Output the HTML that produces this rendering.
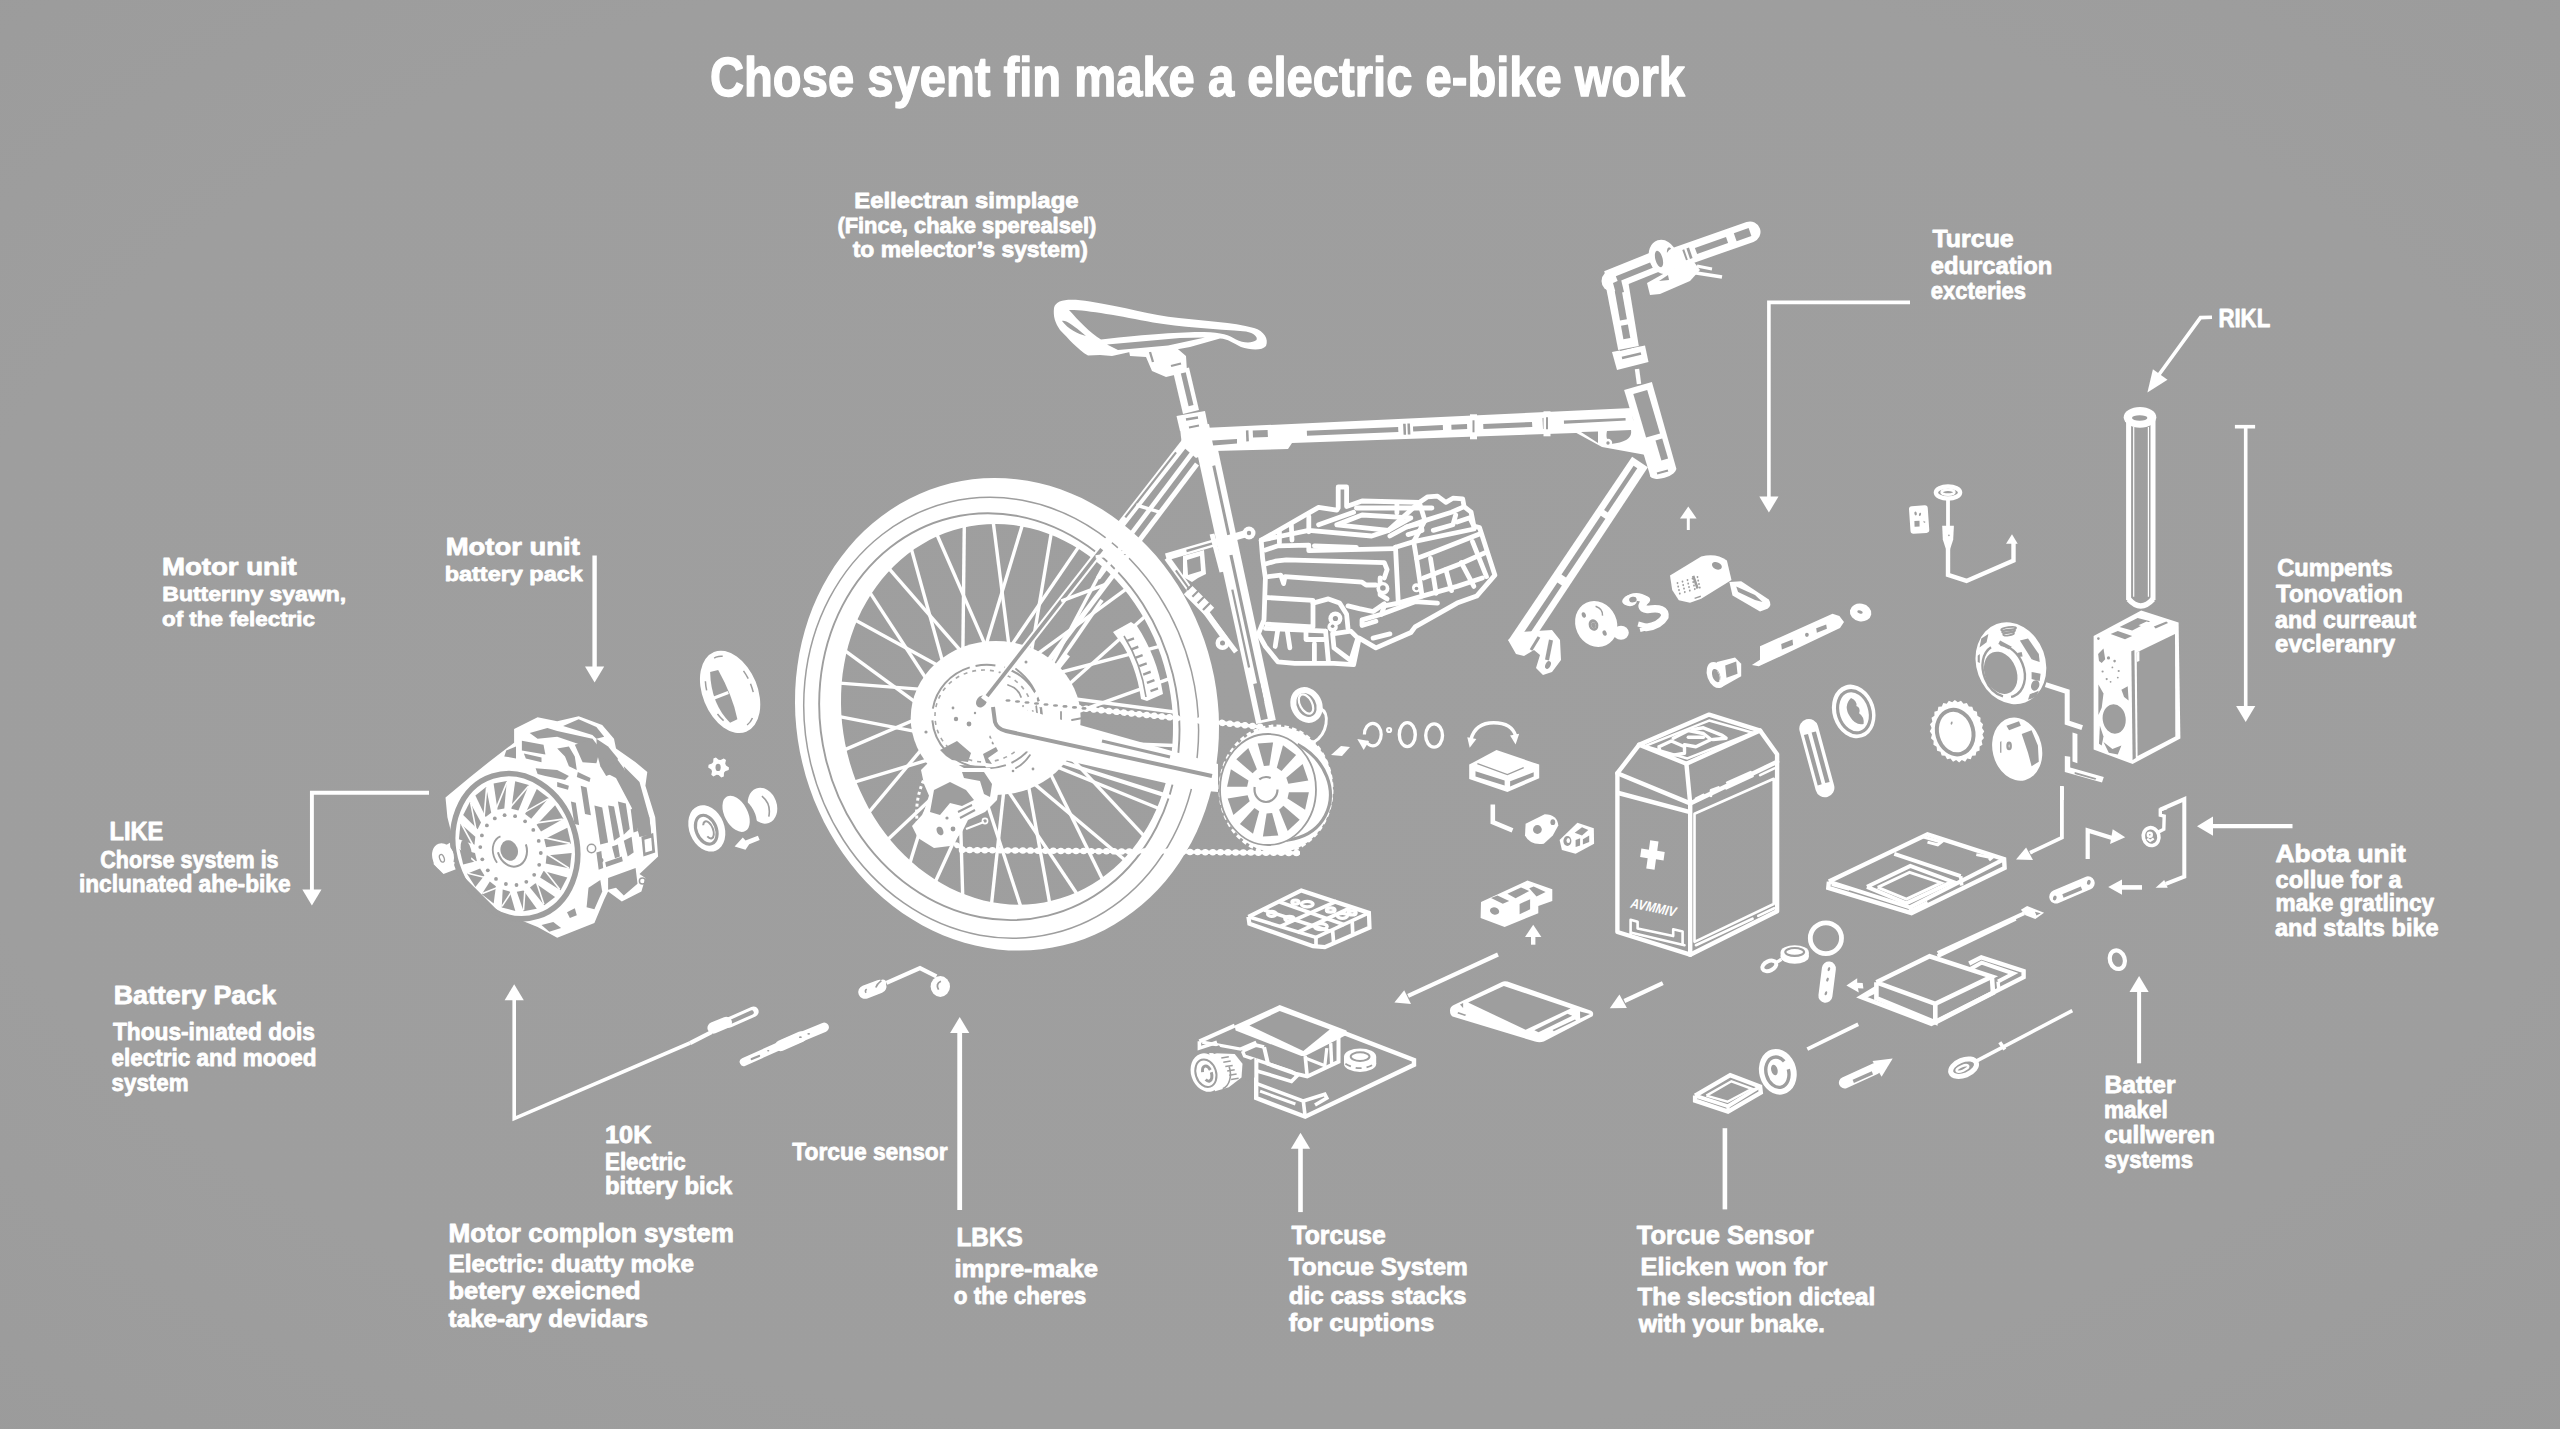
<!DOCTYPE html>
<html><head><meta charset="utf-8"><title>How an electric e-bike works</title>
<style>
html,body{margin:0;padding:0;background:#9e9e9e;}
body{width:2560px;height:1429px;overflow:hidden;font-family:"Liberation Sans",sans-serif;}
svg{display:block}
.w{fill:#fff;stroke:none}
.g{fill:#9e9e9e;stroke:none}
.l{fill:none;stroke:#fff;stroke-linecap:butt;stroke-linejoin:miter}
.gl{fill:none;stroke:#9e9e9e}
</style></head><body>
<svg width="2560" height="1429" viewBox="0 0 2560 1429">
<defs>
<radialGradient id="bg" cx="50%" cy="48%" r="75%">
<stop offset="0" stop-color="#9f9f9f"/><stop offset="0.7" stop-color="#9e9e9e"/><stop offset="1" stop-color="#9b9b9b"/>
</radialGradient>
</defs>
<rect width="2560" height="1429" fill="url(#bg)"/>
<!-- 10_arrows.py -->
<polyline class="l" stroke-width="4.4" points="594.6,555.5 594.6,670.0"/>
<polygon class="w" points="594.6,682.5 585.0,666.5 604.2,666.5"/>
<polyline class="l" stroke-width="3.9" points="429.0,792.7 311.9,792.7 311.9,893.0"/>
<polygon class="w" points="311.9,905.6 302.3,889.6 321.5,889.6"/>
<polyline class="l" stroke-width="3.6" points="690.0,1043.0 514.2,1118.6 514.2,998.0"/>
<polygon class="w" points="514.2,984.2 523.8,1000.2 504.6,1000.2"/>
<polyline class="l" stroke-width="4.8" points="959.7,1209.9 959.7,1030.0"/>
<polygon class="w" points="959.7,1016.9 969.3,1032.9 950.1,1032.9"/>
<polyline class="l" stroke-width="4.6" points="1300.5,1212.1 1300.5,1147.0"/>
<polygon class="w" points="1300.5,1132.8 1310.1,1148.8 1290.9,1148.8"/>
<polyline class="l" stroke-width="4.6" points="1724.9,1128.2 1724.9,1209.4"/>
<polyline class="l" stroke-width="4.0" points="2139.1,1063.3 2139.1,990.0"/>
<polygon class="w" points="2139.1,976.1 2148.7,992.1 2129.5,992.1"/>
<polyline class="l" stroke-width="4.3" points="2292.5,826.2 2211.0,826.2"/>
<polygon class="w" points="2197.0,826.2 2213.0,816.6 2213.0,835.8"/>
<polyline class="l" stroke-width="3.6" points="2234.9,426.7 2255.1,426.7"/>
<polyline class="l" stroke-width="3.6" points="2245.7,426.7 2245.7,708.0"/>
<polygon class="w" points="2245.7,722.0 2236.1,706.0 2255.3,706.0"/>
<polyline class="l" stroke-width="3.6" points="2212.0,317.2 2200.5,317.6 2158.0,376.0"/>
<polygon class="w" points="2147.4,392.4 2152.9,369.3 2167.5,379.8"/>
<polyline class="l" stroke-width="3.6" points="1910.0,302.4 1768.9,302.4 1768.9,499.0"/>
<polygon class="w" points="1768.9,512.6 1759.3,496.6 1778.5,496.6"/>
<polyline class="l" stroke-width="3" points="1688.3,530.0 1688.3,518.0"/>
<polygon class="w" points="1688.3,506.5 1696.6,518.5 1680.0,518.5"/>
<!-- 20_wheel.py -->
<g stroke="#fff" stroke-width="3.4" stroke-linecap="butt">
<line x1="1035.7" y1="726.8" x2="1169.6" y2="678.7"/>
<line x1="1031.6" y1="693.3" x2="1174.5" y2="712.0"/>
<line x1="1028.4" y1="740.1" x2="1174.3" y2="745.5"/>
<line x1="1037.1" y1="706.9" x2="1169.1" y2="778.0"/>
<line x1="1016.8" y1="750.5" x2="1158.9" y2="808.5"/>
<line x1="1037.1" y1="721.5" x2="1144.2" y2="836.2"/>
<line x1="1002.1" y1="756.8" x2="1125.2" y2="860.2"/>
<line x1="1031.7" y1="735.5" x2="1102.7" y2="879.7"/>
<line x1="986.2" y1="758.1" x2="1077.2" y2="894.3"/>
<line x1="1021.5" y1="747.2" x2="1049.7" y2="903.3"/>
<line x1="971.0" y1="754.3" x2="1020.8" y2="906.7"/>
<line x1="1007.7" y1="755.0" x2="991.5" y2="904.1"/>
<line x1="958.4" y1="745.9" x2="962.7" y2="895.8"/>
<line x1="992.0" y1="758.2" x2="935.2" y2="882.0"/>
<line x1="949.8" y1="734.0" x2="909.9" y2="863.1"/>
<line x1="976.4" y1="756.3" x2="887.6" y2="839.7"/>
<line x1="946.3" y1="719.8" x2="868.8" y2="812.4"/>
<line x1="962.6" y1="749.5" x2="854.3" y2="782.2"/>
<line x1="948.3" y1="705.2" x2="844.4" y2="749.9"/>
<line x1="952.4" y1="738.7" x2="839.5" y2="716.6"/>
<line x1="955.6" y1="691.9" x2="839.7" y2="683.1"/>
<line x1="946.9" y1="725.1" x2="844.9" y2="650.6"/>
<line x1="967.2" y1="681.5" x2="855.1" y2="620.1"/>
<line x1="946.9" y1="710.5" x2="869.8" y2="592.4"/>
<line x1="981.9" y1="675.2" x2="888.8" y2="568.4"/>
<line x1="952.3" y1="696.5" x2="911.3" y2="548.9"/>
<line x1="997.8" y1="673.9" x2="936.8" y2="534.3"/>
<line x1="962.5" y1="684.8" x2="964.3" y2="525.3"/>
<line x1="1013.0" y1="677.7" x2="993.2" y2="521.9"/>
<line x1="976.3" y1="677.0" x2="1022.5" y2="524.5"/>
<line x1="1025.6" y1="686.1" x2="1051.3" y2="532.8"/>
<line x1="992.0" y1="673.8" x2="1078.8" y2="546.6"/>
<line x1="1034.2" y1="698.0" x2="1104.1" y2="565.5"/>
<line x1="1007.6" y1="675.7" x2="1126.4" y2="588.9"/>
<line x1="1037.7" y1="712.2" x2="1145.2" y2="616.2"/>
<line x1="1021.4" y1="682.5" x2="1159.7" y2="646.4"/>
</g>
<path class="w" fill-rule="evenodd" d="M1211.4,664.5 L1214.1,676.6 L1216.2,688.9 L1217.7,701.2 L1218.7,713.6 L1219.0,726.0 L1218.8,738.3 L1218.0,750.6 L1216.6,762.7 L1214.7,774.8 L1212.2,786.7 L1209.1,798.3 L1205.5,809.8 L1201.3,821.0 L1196.6,831.9 L1191.4,842.4 L1185.6,852.6 L1179.4,862.5 L1172.7,871.9 L1165.6,880.9 L1158.0,889.5 L1150.0,897.5 L1141.6,905.1 L1132.8,912.1 L1123.7,918.6 L1114.3,924.6 L1104.6,929.9 L1094.6,934.7 L1084.4,938.9 L1073.9,942.4 L1063.3,945.3 L1052.5,947.6 L1041.6,949.3 L1030.6,950.3 L1019.6,950.6 L1008.5,950.4 L997.4,949.4 L986.3,947.8 L975.3,945.6 L964.4,942.8 L953.6,939.3 L942.9,935.2 L932.4,930.5 L922.1,925.2 L912.1,919.3 L902.3,912.9 L892.8,905.9 L883.6,898.4 L874.7,890.4 L866.2,881.9 L858.1,873.0 L850.4,863.6 L843.2,853.8 L836.3,843.6 L830.0,833.1 L824.1,822.2 L818.8,811.1 L813.9,799.7 L809.6,788.0 L805.8,776.2 L802.6,764.1 L799.9,752.0 L797.8,739.7 L796.3,727.4 L795.3,715.0 L795.0,702.6 L795.2,690.3 L796.0,678.0 L797.4,665.9 L799.3,653.8 L801.8,641.9 L804.9,630.3 L808.5,618.8 L812.7,607.6 L817.4,596.7 L822.6,586.2 L828.4,576.0 L834.6,566.1 L841.3,556.7 L848.4,547.7 L856.0,539.1 L864.0,531.1 L872.4,523.5 L881.2,516.5 L890.3,510.0 L899.7,504.0 L909.4,498.7 L919.4,493.9 L929.6,489.7 L940.1,486.2 L950.7,483.3 L961.5,481.0 L972.4,479.3 L983.4,478.3 L994.4,478.0 L1005.5,478.2 L1016.6,479.2 L1027.7,480.8 L1038.7,483.0 L1049.6,485.8 L1060.4,489.3 L1071.1,493.4 L1081.6,498.1 L1091.9,503.4 L1101.9,509.3 L1111.7,515.7 L1121.2,522.7 L1130.4,530.2 L1139.3,538.2 L1147.8,546.7 L1155.9,555.6 L1163.6,565.0 L1170.8,574.8 L1177.7,585.0 L1184.0,595.5 L1189.9,606.4 L1195.2,617.5 L1200.1,628.9 L1204.4,640.6 L1208.2,652.4Z M1166.7,675.4 L1168.9,685.2 L1170.6,695.1 L1171.9,705.0 L1172.7,715.0 L1173.0,724.9 L1172.9,734.9 L1172.4,744.7 L1171.4,754.5 L1169.9,764.2 L1168.0,773.8 L1165.7,783.1 L1162.9,792.3 L1159.7,801.3 L1156.1,810.1 L1152.1,818.5 L1147.6,826.7 L1142.8,834.6 L1137.6,842.2 L1132.1,849.4 L1126.2,856.2 L1120.0,862.7 L1113.5,868.7 L1106.6,874.3 L1099.6,879.5 L1092.2,884.2 L1084.6,888.5 L1076.9,892.3 L1068.9,895.6 L1060.7,898.3 L1052.4,900.6 L1044.0,902.4 L1035.5,903.7 L1026.9,904.4 L1018.2,904.7 L1009.5,904.4 L1000.8,903.6 L992.2,902.2 L983.5,900.4 L975.0,898.0 L966.5,895.1 L958.1,891.8 L949.9,887.9 L941.8,883.6 L933.9,878.8 L926.2,873.6 L918.7,867.9 L911.5,861.8 L904.5,855.3 L897.8,848.4 L891.4,841.2 L885.3,833.6 L879.6,825.7 L874.2,817.4 L869.1,808.9 L864.5,800.1 L860.2,791.1 L856.3,781.9 L852.9,772.5 L849.9,762.9 L847.3,753.2 L845.1,743.4 L843.4,733.5 L842.1,723.6 L841.3,713.6 L841.0,703.7 L841.1,693.7 L841.6,683.9 L842.6,674.1 L844.1,664.4 L846.0,654.8 L848.3,645.5 L851.1,636.3 L854.3,627.3 L857.9,618.5 L861.9,610.1 L866.4,601.9 L871.2,594.0 L876.4,586.4 L881.9,579.2 L887.8,572.4 L894.0,565.9 L900.5,559.9 L907.4,554.3 L914.4,549.1 L921.8,544.4 L929.4,540.1 L937.1,536.3 L945.1,533.0 L953.3,530.3 L961.6,528.0 L970.0,526.2 L978.5,524.9 L987.1,524.2 L995.8,523.9 L1004.5,524.2 L1013.2,525.0 L1021.8,526.4 L1030.5,528.2 L1039.0,530.6 L1047.5,533.5 L1055.9,536.8 L1064.1,540.7 L1072.2,545.0 L1080.1,549.8 L1087.8,555.0 L1095.3,560.7 L1102.5,566.8 L1109.5,573.3 L1116.2,580.2 L1122.6,587.4 L1128.7,595.0 L1134.4,602.9 L1139.8,611.2 L1144.9,619.7 L1149.5,628.5 L1153.8,637.5 L1157.7,646.7 L1161.1,656.1 L1164.1,665.7Z"/>
<ellipse cx="1000.5" cy="716.3" rx="195.9" ry="221.8" transform="rotate(-13.7 1007 714.3)" fill="none" stroke="#9e9e9e" stroke-width="1.5"/>
<ellipse cx="999" cy="714.8" rx="178.6" ry="204.8" transform="rotate(-13.7 1007 714.3)" fill="none" stroke="#9e9e9e" stroke-width="1.9"/>
<ellipse class="w" cx="995.7" cy="718" rx="85" ry="77"/>
<ellipse cx="986.8" cy="716.6" rx="54.6" ry="51.8" fill="none" stroke="#9e9e9e" stroke-width="2" stroke-dasharray="58 6 20 9 70 12"/>
<ellipse cx="984" cy="716" rx="49" ry="46" fill="none" stroke="#9e9e9e" stroke-width="1.6" stroke-dasharray="4 5" pathLength="300" stroke-dashoffset="-150" opacity="0.9" clip-path="none"/>
<path class="g" d="M940,750 L957,741 L971,753 L968,762 L952,760 L946,756Z"/>
<path class="g" d="M958,765 L985,766 L994,777 L992,795 L984,792 L980,776 L962,772Z"/>
<path class="g" d="M983,754 L996,747 L998,751 L988,758 L992,764 L986,763Z"/>
<circle class="g" cx="956" cy="719" r="2.2"/>
<circle class="g" cx="969" cy="724" r="2.4"/>
<circle class="g" cx="953" cy="708" r="1.4"/>
<circle class="g" cx="926" cy="732" r="1.6"/>
<circle class="g" cx="975" cy="713" r="1.2"/>
<circle class="g" cx="991" cy="737" r="1.8"/>
<circle class="g" cx="993" cy="743" r="1.4"/>
<circle class="g" cx="1016" cy="739" r="1.3"/>
<circle class="g" cx="1050" cy="678" r="1.6"/>
<circle class="g" cx="1026" cy="662" r="1.5"/>
<circle class="g" cx="1033" cy="769" r="1.4"/>
<circle class="g" cx="1013" cy="771" r="1.3"/>
<path d="M1016,669 Q1036,684 1039,705 M1008,685 Q1018,688 1021,697 M1023,706 Q1030,712 1029,722 M1036,704 L1038,722 M1041,706 L1043,724 M1061,712 L1061,726 M1072,720 L1088,717 M1030,755 Q1024,764 1016,768" fill="none" stroke="#9e9e9e" stroke-width="1.8" stroke-linecap="round"/>
<ellipse class="g" cx="981.5" cy="701.5" rx="5" ry="6.5" transform="rotate(35 981.5 701.5)"/>
<!-- 30_frame.py -->
<polygon class="w" points="1183.8,437.5 981.0,697.7 987.0,702.3 1190.2,442.5"/>
<polygon class="g" points="1100.3,548.1 985.6,695.0 988.5,697.2 1103.2,550.3"/>
<polygon class="g" points="1175.2,451.7 1124.4,516.7 1126.2,518.1 1176.9,453.1"/>
<polygon class="w" points="1195.0,462.5 1041.0,666.5 1045.0,669.5 1199.0,465.5"/>
<polygon class="w" points="1191.2,450.6 1096.2,576.6 1099.8,579.4 1194.8,453.4"/>
<polygon class="w" points="1135.7,506.7 1159.9,514.1 1160.9,510.8 1136.8,503.3"/>
<polygon class="w" points="1095.9,558.7 1131.4,552.9 1130.9,549.5 1095.4,555.3"/>
<polygon class="w" points="1061.8,602.8 1106.9,585.8 1105.7,582.5 1060.5,599.6"/>
<polygon class="w" points="1066.0,653.4 1008.0,726.4 1012.0,729.6 1070.0,656.6"/>
<polygon class="w" points="1100.4,598.9 1038.4,688.9 1041.6,691.1 1103.6,601.1"/>
<polygon class="w" points="1195.7,446.2 1256.2,724.1 1275.8,719.9 1216.3,441.8"/>
<polygon class="g" points="1212.3,465.9 1227.3,535.4 1230.2,534.8 1215.2,465.3"/>
<polygon class="g" points="1229.4,555.3 1261.2,702.7 1264.3,702.0 1232.5,554.7"/>
<polygon class="g" points="1231.2,589.8 1248.0,667.7 1250.2,667.2 1233.4,589.4"/>
<polygon class="g" points="1253.2,684.0 1261.0,720.2 1267.8,718.7 1260.0,682.6"/>
<polygon class="w" points="1167.0,560.4 1249.0,536.4 1247.0,529.6 1165.0,553.6"/>
<polygon class="g" points="1186.8,552.2 1215.5,543.8 1214.9,541.4 1186.2,549.8"/>
<circle class="w" cx="1249" cy="533" r="6.5"/><circle class="g" cx="1249" cy="533" r="2.2"/>
<polygon class="w" points="1164.6,559.8 1223.6,641.8 1228.4,638.2 1169.4,556.2"/>
<polygon class="g" points="1175.0,570.9 1195.7,599.6 1197.3,598.4 1176.7,569.7"/>
<circle class="w" cx="1222.5" cy="643" r="7"/><circle class="g" cx="1222.5" cy="643" r="2.5"/>
<polygon class="w" points="1183.0,556.0 1204.0,550.0 1206.0,574.0 1198.0,578.0 1192.0,582.0 1183.0,577.0"/>
<polygon class="g" points="1187.0,560.0 1200.0,556.0 1201.0,571.0 1188.0,575.0"/>
<polygon class="w" points="1183.8,594.2 1205.8,616.2 1214.2,607.8 1192.2,585.8"/>
<polygon class="g" points="1187.8,590.8 1194.8,583.8 1193.2,582.2 1186.2,589.2"/>
<polygon class="g" points="1193.1,597.4 1200.1,590.4 1198.6,588.9 1191.6,595.9"/>
<polygon class="g" points="1198.4,604.1 1205.4,597.1 1203.9,595.6 1196.9,602.6"/>
<polygon class="g" points="1203.8,610.8 1210.8,603.8 1209.2,602.2 1202.2,609.2"/>
<polygon class="w" points="1204.0,613.5 1234.0,653.5 1238.0,650.5 1208.0,610.5"/>
<polygon class="w" points="1209.6,534.6 1219.6,572.6 1224.4,571.4 1214.4,533.4"/>
<polygon class="w" points="1203.0,428.0 1632.0,408.0 1634.0,431.0 1292.0,443.0 1288.0,449.0 1214.0,451.0"/>
<polygon class="g" points="1253.0,437.6 1267.9,437.0 1267.6,430.0 1252.7,430.6"/>
<polygon class="g" points="1307.0,435.8 1398.4,432.0 1398.1,427.0 1306.8,430.8"/>
<polygon class="g" points="1413.2,431.4 1443.0,430.1 1442.8,425.1 1413.0,426.4"/>
<polygon class="g" points="1451.5,429.8 1467.2,429.1 1467.0,424.1 1451.3,424.8"/>
<polygon class="g" points="1483.4,428.9 1532.3,426.9 1532.0,421.9 1483.2,423.9"/>
<polygon class="g" points="1564.1,425.5 1625.8,423.0 1625.5,418.0 1563.9,420.5"/>
<polygon class="g" points="1246.3,441.4 1248.9,441.3 1248.4,430.3 1245.9,430.4"/>
<polygon class="g" points="1403.6,434.8 1406.1,434.7 1405.7,423.7 1403.1,423.8"/>
<polygon class="g" points="1407.8,434.6 1410.4,434.5 1409.9,423.5 1407.4,423.6"/>
<polygon class="g" points="1473.7,431.8 1476.3,431.7 1475.8,420.7 1473.2,420.8"/>
<polygon class="g" points="1543.0,428.9 1545.5,428.8 1545.1,417.8 1542.5,417.9"/>
<polygon class="g" points="1196.0,441.5 1237.0,439.0 1237.0,443.5 1207.0,446.0 1201.0,449.0"/>
<polygon class="w" points="1470.0,414.3 1470.0,439.3 1477.0,439.3 1477.0,414.3"/>
<polygon class="g" points="1472.5,420.3 1472.5,432.3 1474.5,432.3 1474.5,420.3"/>
<polygon class="w" points="1543.5,411.3 1543.5,436.3 1550.5,436.3 1550.5,411.3"/>
<polygon class="g" points="1546.0,417.3 1546.0,429.3 1548.0,429.3 1548.0,417.3"/>
<polygon class="w" points="1180.0,428.0 1209.0,424.0 1214.0,450.0 1196.0,458.0 1182.0,446.0"/>
<polygon class="w" points="1176.5,416.0 1205.0,411.0 1208.0,426.0 1180.0,431.0"/>
<polygon class="g" points="1186.2,420.7 1198.2,418.7 1197.8,416.3 1185.8,418.3"/>
<polygon class="g" points="1189.2,428.6 1199.2,426.6 1198.8,424.4 1188.8,426.4"/>
<polygon class="w" points="1173.0,371.4 1183.0,413.9 1199.0,410.1 1189.0,367.6"/>
<polygon class="g" points="1180.5,371.9 1188.6,406.3 1193.5,405.1 1185.4,370.7"/>
<polygon class="w" points="1128.0,346.0 1156.0,342.0 1172.0,344.0 1186.0,356.0 1187.0,372.0 1166.0,377.0 1152.0,371.0 1146.0,357.0 1130.0,356.0"/>
<polygon class="g" points="1148.9,352.3 1151.9,362.3 1154.1,361.7 1151.1,351.7"/>
<polygon class="g" points="1171.3,367.1 1181.3,364.6 1180.7,362.4 1170.7,364.9"/>
<path class="w" fill-rule="evenodd" d="M1054,308 C1056,299 1070,298.5 1090,301.5 C1125,307 1150,315 1179,318 C1205,321 1232,322 1254,328 C1264,331 1269,339 1266,346 C1262,351 1250,350 1241,347 C1233,343 1228,339 1220,338.5 L1190,347 L1168,351 L1130,352 L1112,356 L1100,355 L1088,355.5 C1078,350 1068,338 1060,330 C1055,323 1053,316 1054,308Z M1069,310 C1085,309.5 1120,316 1153,322.5 C1180,327 1215,329 1246,331.5 C1254,333 1258,337 1256.5,340 C1252,343.5 1243,343 1236,339.5 C1229,335 1222,332.5 1204,332 C1180,332 1150,334 1101,339.5 C1090,333 1078,320 1069,310Z"/>
<path class="g" d="M1107,344.5 L1180,338 L1205,337.5 L1168,345.5 L1118,350 Z"/>
<path class="g" d="M1062,321 C1066,320 1072,325 1080,331 L1086,336 C1078,334 1068,329 1062,321Z"/>
<polygon class="w" points="1624.1,390.1 1650.5,476.8 1676.5,469.2 1651.9,381.9"/>
<polygon class="g" points="1633.3,394.0 1646.1,437.5 1660.0,433.4 1647.2,389.9"/>
<polygon class="g" points="1655.5,440.4 1661.4,460.4 1668.1,458.4 1662.2,438.4"/>
<ellipse class="w" cx="1663" cy="472" rx="13.5" ry="6" transform="rotate(-16 1663 472)"/>
<polygon class="g" points="1657.3,474.6 1668.3,471.6 1667.7,469.4 1656.7,472.4"/>
<polygon class="w" points="1560.0,424.0 1636.0,420.0 1646.0,455.0 1602.0,447.0"/>
<polygon class="g" points="1581.0,432.0 1598.0,431.5 1598.0,443.0"/>
<path class="g" d="M1607,431 L1631,430 C1632,436 1629,442 1611,444 C1606,440 1606,436 1607,431Z"/>
<circle class="w" cx="1608" cy="443" r="4.2"/><circle class="g" cx="1608" cy="443" r="1.7"/>
<polygon class="w" points="1632.1,456.7 1508.3,640.2 1525.7,651.8 1647.9,467.3"/>
<polygon class="g" points="1633.6,465.7 1604.1,509.9 1607.8,512.4 1637.3,468.2"/>
<polygon class="g" points="1600.8,515.7 1561.5,574.6 1566.0,577.6 1605.4,518.7"/>
<polygon class="g" points="1557.4,582.5 1524.2,632.1 1528.7,635.2 1561.9,585.5"/>
<path class="w" d="M1508,640 L1520,632 L1552,630 L1560,640 L1561,660 L1552,672 L1543,675 L1536,668 L1540,655 L1534,650 L1524,656 L1516,654Z"/>
<polygon class="g" points="1537.7,636.2 1529.7,649.2 1532.3,650.8 1540.3,637.8"/>
<polygon class="g" points="1549.0,639.6 1545.0,659.6 1549.0,660.4 1553.0,640.4"/>
<ellipse class="g" cx="1548" cy="665" rx="2.6" ry="4" transform="rotate(25 1548 665)"/>
<polygon class="w" points="1634.8,369.3 1636.8,384.3 1641.2,383.7 1639.2,368.7"/>
<polygon class="w" points="1612.0,352.0 1645.0,345.5 1648.5,362.0 1617.0,370.0"/>
<polygon class="g" points="1622.3,359.2 1641.3,354.7 1640.7,352.3 1621.7,356.8"/>
<polygon class="g" points="1620.2,351.0 1634.2,347.5 1633.8,345.5 1619.8,349.0"/>
<polygon class="w" points="1605.2,283.0 1618.2,349.9 1638.8,346.1 1627.8,279.0"/>
<polygon class="g" points="1613.4,283.6 1620.0,320.5 1626.9,319.2 1620.3,282.4"/>
<polygon class="g" points="1621.0,325.8 1623.4,339.2 1630.3,338.0 1627.9,324.6"/>
<polygon class="w" points="1611.9,290.7 1663.9,269.7 1656.1,250.3 1604.1,271.3"/>
<circle class="w" cx="1612" cy="281" r="10.5"/>
<polygon class="g" points="1618.0,281.8 1652.8,267.7 1650.6,262.2 1615.8,276.2"/>
<polygon class="g" points="1613.0,283.0 1621.0,279.5 1624.0,292.0 1616.0,294.0"/>
<ellipse class="w" cx="1663" cy="257" rx="14" ry="17.5" transform="rotate(-18 1663 257)"/>
<ellipse class="g" cx="1659" cy="259" rx="3.6" ry="8.6" transform="rotate(-15 1659 259)"/>
<ellipse class="g" cx="1671" cy="256.5" rx="3.4" ry="9.4" transform="rotate(-15 1671 256.5)"/>
<polygon class="w" points="1647.0,283.0 1672.0,269.0 1694.0,262.0 1700.0,270.0 1690.0,281.0 1660.0,294.0 1650.0,295.0"/>
<polygon class="g" points="1659.0,281.0 1668.0,275.0 1669.0,280.0"/>
<polygon class="w" points="1689.7,273.7 1721.7,278.7 1722.3,275.3 1690.3,270.3"/>
<polygon class="w" points="1696.7,267.5 1711.7,270.5 1712.3,267.5 1697.3,264.5"/>
<line x1="1676" y1="258" x2="1750" y2="232" stroke="#fff" stroke-width="21" stroke-linecap="round"/>
<polygon class="g" points="1697.1,254.0 1728.1,243.1 1726.0,237.0 1694.9,247.9"/>
<polygon class="g" points="1736.6,241.2 1751.4,236.0 1748.6,228.0 1733.8,233.2"/>
<polygon class="g" points="1686.0,260.3 1687.8,259.7 1684.2,249.3 1682.3,250.0"/>
<polygon class="g" points="1690.0,258.9 1692.6,258.0 1689.0,247.6 1686.4,248.5"/>
<!-- 40_drive.py -->
<polygon class="w" points="990.0,704.0 1002.0,703.0 1218.0,764.0 1218.0,792.0 1196.0,790.0 994.0,744.0 988.0,730.0"/>
<path d="M993,707 L995,722 Q997,729 1006,731 L1212,776" fill="none" stroke="#9e9e9e" stroke-width="4"/>
<polygon class="g" points="1101.6,742.6 1169.6,758.6 1170.4,755.4 1102.4,739.4"/>
<polygon class="w" points="1029.4,753.9 1179.4,801.9 1180.6,798.1 1030.6,750.1"/>
<path class="w" d="M1113,632 L1131,622 L1137,626 C1150,646 1159,668 1163,694 L1147,701 L1141,699 C1138,676 1130,654 1119,640Z"/>
<polygon class="g" points="1126.9,642.3 1134.4,639.5 1133.6,637.3 1126.1,640.1"/>
<polygon class="g" points="1131.2,650.7 1138.7,647.9 1137.9,645.6 1130.4,648.4"/>
<polygon class="g" points="1135.5,659.0 1143.0,656.2 1142.2,653.9 1134.7,656.7"/>
<polygon class="g" points="1139.6,667.3 1147.1,664.5 1146.3,662.3 1138.8,665.1"/>
<polygon class="g" points="1143.6,675.7 1151.1,672.9 1150.3,670.6 1142.8,673.4"/>
<polygon class="g" points="1147.4,684.0 1154.9,681.2 1154.0,678.9 1146.5,681.7"/>
<polygon class="g" points="1150.9,692.3 1158.4,689.5 1157.6,687.3 1150.1,690.1"/>
<path d="M1124,636 C1136,655 1143,676 1146,697" fill="none" stroke="#9e9e9e" stroke-width="1.6"/>
<ellipse class="w" cx="1277" cy="789.5" rx="56" ry="63"/>
<ellipse cx="1276" cy="789.5" rx="55" ry="62.5" fill="none" stroke="#fff" stroke-width="5" stroke-dasharray="4.5 3.2"/>
<ellipse cx="1274" cy="788.5" rx="50" ry="58" fill="none" stroke="#9e9e9e" stroke-width="3.2" stroke-dasharray="182 400" transform="rotate(-62 1274 788.5)"/>
<ellipse class="w" cx="1268" cy="789.5" rx="49" ry="56"/>
<ellipse cx="1268" cy="789.5" rx="48" ry="55.5" fill="none" stroke="#9e9e9e" stroke-width="1.8"/>
<polygon class="g" points="1288.9,792.3 1308.9,792.3 1305.1,809.7 1287.5,798.5"/>
<polygon class="g" points="1283.4,805.8 1299.7,819.7 1287.7,831.1 1279.1,809.8"/>
<polygon class="g" points="1272.1,813.0 1278.3,835.5 1262.9,836.6 1266.6,813.4"/>
<polygon class="g" points="1259.2,811.3 1253.0,833.7 1239.9,824.1 1254.5,807.9"/>
<polygon class="g" points="1249.7,801.2 1233.4,815.1 1227.7,798.4 1247.6,795.3"/>
<polygon class="g" points="1247.1,786.7 1227.1,786.7 1230.9,769.3 1248.5,780.5"/>
<polygon class="g" points="1252.6,773.2 1236.3,759.3 1248.3,747.9 1256.9,769.2"/>
<polygon class="g" points="1263.9,766.0 1257.7,743.5 1273.1,742.4 1269.4,765.6"/>
<polygon class="g" points="1276.8,767.7 1283.0,745.3 1296.1,754.9 1281.5,771.1"/>
<polygon class="g" points="1286.3,777.8 1302.6,763.9 1308.3,780.6 1288.4,783.7"/>
<ellipse cx="1266" cy="789.5" rx="11.5" ry="12.5" fill="#fff" stroke="#9e9e9e" stroke-width="2.2" stroke-dasharray="40 9 12 14"/>
<line x1="1003" y1="700" x2="1262" y2="727" stroke="#fff" stroke-width="3.7"/><line x1="1003" y1="700" x2="1262" y2="727" stroke="#fff" stroke-width="6.5" stroke-dasharray="0.1 7.5" stroke-linecap="round"/>
<line x1="962" y1="850" x2="1300" y2="853" stroke="#fff" stroke-width="3.7"/><line x1="962" y1="850" x2="1300" y2="853" stroke="#fff" stroke-width="6.5" stroke-dasharray="0.1 7.5" stroke-linecap="round"/>
<line x1="946" y1="838" x2="964" y2="850" stroke="#fff" stroke-width="3.2"/><line x1="946" y1="838" x2="964" y2="850" stroke="#fff" stroke-width="5.6" stroke-dasharray="0.1 6.5" stroke-linecap="round"/>
<ellipse class="g" cx="1008.0" cy="700.5" rx="2.6" ry="1.3"/>
<ellipse class="g" cx="1017.5" cy="701.5" rx="2.6" ry="1.3"/>
<ellipse class="g" cx="1027.0" cy="702.5" rx="2.6" ry="1.3"/>
<ellipse class="g" cx="1036.5" cy="703.5" rx="2.6" ry="1.3"/>
<ellipse class="g" cx="1046.0" cy="704.5" rx="2.6" ry="1.3"/>
<ellipse class="g" cx="1055.5" cy="705.5" rx="2.6" ry="1.3"/>
<ellipse class="g" cx="1065.0" cy="706.4" rx="2.6" ry="1.3"/>
<ellipse class="g" cx="1074.5" cy="707.4" rx="2.6" ry="1.3"/>
<ellipse class="g" cx="1084.0" cy="708.4" rx="2.6" ry="1.3"/>
<path class="w" d="M921,770 L934,757 L950,760 L964,768 L990,768 L1000,780 L997,800 L985,812 L968,820 L962,832 L950,846 L934,848 L918,838 L912,826 L922,815 L930,798 L924,784Z"/>
<path class="g" d="M934,790 L950,782 L966,790 L974,800 L962,806 L950,803 L940,815 L930,812Z"/>
<path class="g" d="M962,772 L984,772 L992,784 L990,797 L984,794 L980,781 L964,778Z"/>
<ellipse class="g" cx="940" cy="831" rx="3.2" ry="4.4" transform="rotate(-20 940 831)"/><circle class="g" cx="953" cy="829" r="2.4"/><circle class="g" cx="947" cy="818" r="1.6"/>
<polygon class="g" points="958.4,812.9 972.4,805.9 971.6,804.1 957.6,811.1"/>
<polygon class="g" points="960.5,818.9 975.5,810.9 974.5,809.1 959.5,817.1"/>
<path d="M966,829 L984,822" stroke="#fff" stroke-width="2.2" fill="none"/><circle cx="985" cy="821" r="2.6" fill="none" stroke="#fff" stroke-width="1.6"/>
<path d="M926,775 C916,795 914,815 920,835" fill="none" stroke="#fff" stroke-width="3" stroke-dasharray="3 3"/>
<ellipse cx="1306.5" cy="705" rx="12.5" ry="15.5" transform="rotate(-28 1306.5 705)" fill="none" stroke="#fff" stroke-width="6"/>
<ellipse cx="1306" cy="704" rx="6" ry="10.5" transform="rotate(-28 1306 704)" fill="none" stroke="#fff" stroke-width="2.2"/>
<path d="M1320,708 Q1328,712 1326,724 Q1324,736 1314,742" fill="none" stroke="#fff" stroke-width="3"/>
<polygon class="w" points="1331.0,755.0 1341.0,746.0 1350.0,747.0 1342.0,756.0"/>
<!-- 50_block.py -->
<g fill="none" stroke="#fff" stroke-width="4.8" stroke-linejoin="round" stroke-linecap="round">
<polygon points="1261.2,540.2 1318.6,507.3 1336.8,510.1 1338.2,508.0 1338.2,487.0 1346.6,487.0 1346.6,506.6 1362.0,501.0 1419.3,502.4 1427.7,496.8 1437.5,496.1 1445.9,502.4 1452.9,498.2 1462.7,498.9 1464.1,506.6 1471.1,512.2 1473.9,526.2 1479.5,527.6 1494.9,575.2 1476.7,596.1 1457.1,603.1 1415.1,626.9 1410.9,632.5 1375.9,647.9 1359.2,638.1 1353.6,664.7 1334.0,663.3 1294.8,663.3 1278.0,661.9 1265.4,646.5 1258.4,633.9 1264.0,619.9 1265.4,578.0 1262.6,558.4"/>
<polyline points="1261.2,540.2 1308.8,530.4 1371.7,536.0 1388.5,530.4 1419.3,502.4"/>
<polyline points="1279.4,531.8 1279.4,543.0"/>
<polyline points="1291.3,524.8 1292.0,540.2"/>
<polyline points="1308.8,516.4 1308.8,531.8"/>
<polyline points="1318.6,524.8 1353.6,512.2"/>
<polyline points="1336.8,524.8 1362.0,515.0 1410.9,517.8 1388.5,530.4 1336.8,524.8"/>
<polyline points="1356.4,508.0 1431.9,508.0"/>
<polyline points="1396.9,503.1 1396.9,512.9"/>
<polyline points="1265.4,550.0 1278.0,545.8 1308.8,545.1 1308.8,550.7 1394.1,548.6"/>
<polyline points="1314.4,545.8 1356.4,547.5"/>
<polyline points="1265.4,564.0 1275.2,561.2 1286.4,559.8 1384.3,562.6 1387.1,569.6 1384.3,578.0"/>
<polyline points="1268.2,576.6 1280.8,575.2 1283.6,583.6 1285.0,576.6 1362.0,582.2 1366.1,585.0 1375.9,585.0"/>
<polyline points="1265.4,597.5 1313.0,600.3 1313.0,626.9 1266.8,624.1"/>
<polyline points="1313.0,603.1 1328.4,598.9 1339.6,603.1 1346.6,614.3 1348.0,628.3"/>
<polyline points="1348.0,605.9 1359.2,608.7 1373.1,611.5 1384.3,603.8"/>
<polyline points="1395.5,547.2 1398.3,603.1 1384.3,605.9 1381.5,614.3 1362.0,619.9 1362.0,625.5 1375.9,621.3"/>
<polyline points="1413.7,541.6 1416.5,558.4 1422.1,596.1"/>
<polyline points="1395.5,547.2 1413.7,541.6 1473.9,529.0"/>
<polyline points="1416.5,558.4 1431.9,552.8 1479.5,533.9"/>
<polyline points="1423.5,578.0 1459.9,564.0 1485.1,552.8"/>
<polyline points="1398.3,603.1 1422.1,596.1 1457.1,586.4 1482.3,578.0"/>
<polyline points="1430.5,558.4 1436.1,593.4"/>
<polyline points="1445.9,569.6 1451.5,590.6"/>
<polyline points="1461.3,562.6 1473.9,586.4"/>
<polyline points="1472.5,541.6 1486.5,576.6"/>
<polyline points="1265.4,628.3 1325.6,631.1"/>
<polyline points="1278.0,628.3 1275.2,646.5"/>
<polyline points="1287.1,629.7 1289.9,647.9"/>
<polyline points="1306.0,631.1 1306.0,639.5 1324.2,639.5"/>
<polyline points="1314.4,643.7 1314.4,661.9"/>
<polyline points="1325.6,631.1 1328.4,661.9"/>
<polyline points="1332.6,633.9 1350.8,631.1 1357.8,638.1 1350.8,660.5 1334.0,647.9 1332.6,633.9"/>
<polyline points="1381.5,614.3 1415.1,601.7 1437.5,603.1"/>
<polyline points="1373.1,638.1 1389.9,633.9"/>
<polyline points="1419.3,502.4 1424.9,520.6 1413.7,541.6"/>
<polyline points="1424.9,520.6 1451.5,512.2 1464.1,506.6"/>
<polyline points="1433.3,530.4 1452.9,524.8 1455.7,515.0"/>
<polyline points="1389.9,536.0 1405.3,527.6 1424.9,520.6"/>
<polyline points="1406.7,526.9 1420.7,523.4 1422.1,530.4 1408.1,534.6"/>
<polyline points="1457.1,522.0 1469.7,517.8 1473.9,526.2"/>
<polyline points="1380.1,578.0 1380.1,594.7 1387.1,598.9"/>
</g>
<circle class="w" cx="1335.4" cy="618.5" r="7"/><circle class="g" cx="1335.4" cy="618.5" r="2.6"/><circle class="w" cx="1332.6" cy="626.9" r="5.2"/><circle class="g" cx="1332.6" cy="626.2" r="1.8"/><circle class="w" cx="1382.9" cy="588.5" r="6.5"/><circle class="g" cx="1382.9" cy="588.0" r="2.8"/><circle class="w" cx="1416.5" cy="587.8" r="4.5"/><circle class="g" cx="1416.5" cy="588.5" r="1.8"/>
<!-- 60_motor.py -->
<polygon class="w" points="514.1,729.0 537.6,717.2 557.2,721.2 578.7,716.3 602.2,725.1 614.0,738.8 616.0,748.6 635.6,762.3 647.3,772.1 645.4,785.8 655.2,817.2 658.1,856.4 639.5,874.0 645.4,877.9 641.4,891.6 621.8,901.4 608.1,891.6 604.2,899.5 594.4,923.0 557.2,937.7 537.6,926.9 498.4,911.2 465.1,877.9 459.2,868.1 443.5,874.0 433.7,864.2 433.7,852.4 453.3,840.7 447.4,817.2 445.5,797.6 469.0,778.0 488.6,762.3 514.1,742.7"/>
<polygon class="g" points="529.7,732.9 547.4,728.0 557.2,731.0 592.4,738.8 596.4,746.6 580.7,744.7 557.2,736.8 537.6,738.8"/>
<polygon class="g" points="563.1,726.1 578.7,719.2 596.4,727.0 604.2,736.8 596.4,738.8 592.4,734.9"/>
<polygon class="g" points="521.9,740.7 543.5,744.7 545.4,754.5 521.9,750.5"/>
<polygon class="g" points="506.2,750.5 516.0,746.6 516.0,758.4 504.3,756.4"/>
<polygon class="g" points="523.9,753.5 541.5,757.4 541.5,762.3 525.8,758.4"/>
<polygon class="g" points="557.2,748.6 568.9,746.6 574.8,756.4 576.8,770.1 568.9,766.2 565.0,756.4"/>
<polygon class="g" points="596.4,738.8 608.1,746.6 617.9,758.4 616.0,772.1 606.2,776.0 600.3,766.2 597.3,754.5"/>
<polygon class="g" points="535.6,768.2 557.2,770.1 568.9,776.0 565.0,779.9 545.4,776.0 537.6,774.1"/>
<polygon class="g" points="623.8,766.2 639.5,781.9 649.3,817.2 651.2,832.9 639.5,836.8 635.6,805.4 627.7,785.8"/>
<polygon class="g" points="594.4,805.4 602.2,807.4 608.1,842.6 600.3,844.6"/>
<polygon class="g" points="608.1,805.4 614.0,806.4 619.9,836.8 614.0,840.7"/>
<polygon class="g" points="617.9,801.5 625.8,803.5 629.7,828.9 623.8,834.8"/>
<polygon class="g" points="612.0,846.6 617.9,844.6 619.9,856.4 615.0,858.3"/>
<polygon class="g" points="623.8,840.7 631.6,836.8 633.6,852.4 627.7,856.4"/>
<polygon class="g" points="641.4,836.8 653.2,832.9 655.2,852.4 643.4,856.4"/>
<polygon class="w" points="644.4,839.7 651.2,837.8 652.2,850.5 645.4,852.4"/>
<polygon class="g" points="608.1,877.9 635.6,868.1 637.5,883.8 623.8,895.6 616.0,887.7 608.1,889.7"/>
<polygon class="g" points="588.5,887.7 600.3,879.9 602.2,891.6 594.4,909.3 586.6,907.3"/>
<polygon class="g" points="541.5,925.0 553.3,922.0 561.1,927.9 549.3,931.8"/>
<polygon class="g" points="567.0,912.2 574.8,908.3 576.8,915.2 569.9,918.1"/>
<polygon class="g" points="600.3,758.4 617.9,760.3 623.8,768.2 649.3,817.2 651.2,834.8 639.5,836.8 631.6,807.4 616.0,778.0 604.2,772.1"/>
<polygon class="g" points="574.8,744.7 592.4,738.8 600.3,748.6 596.4,763.3 582.6,762.3"/>
<polygon class="g" points="580.7,785.8 586.6,787.4 590.9,815.2 585.0,814.0"/>
<polygon class="g" points="570.9,801.5 575.8,802.7 579.1,825.0 574.4,824.0"/>
<polygon class="g" points="630.7,809.3 635.2,808.4 637.9,830.9 633.6,832.5"/>
<polygon class="g" points="596.4,852.4 601.3,850.9 603.2,868.1 598.7,869.7"/>
<polygon class="g" points="605.2,862.2 621.8,856.4 622.8,861.3 606.2,867.1"/>
<polygon class="g" points="557.2,781.9 568.9,785.8 568.0,789.7 557.2,786.8"/>
<polygon class="g" points="577.8,772.1 590.5,778.0 589.5,781.9 576.8,777.0"/>
<ellipse cx="515.2" cy="846.2" rx="61.1" ry="73.6" transform="rotate(-18 515.2 846.2)" fill="none" stroke="#9e9e9e" stroke-width="5.6"/>
<polygon class="g" points="544.2,839.3 567.3,827.8 571.0,843.4 546.1,847.3"/>
<line x1="545.0" y1="837.9" x2="570.0" y2="843.4" stroke="#fff" stroke-width="1.6"/>
<polygon class="g" points="546.6,855.5 571.6,853.1 569.9,868.5 545.7,863.4"/>
<line x1="547.9" y1="854.7" x2="569.0" y2="868.1" stroke="#fff" stroke-width="1.6"/>
<polygon class="g" points="543.5,871.0 567.3,877.4 560.6,890.3 540.1,877.6"/>
<line x1="545.1" y1="870.8" x2="559.8" y2="889.5" stroke="#fff" stroke-width="1.6"/>
<polygon class="g" points="535.4,883.2 555.1,896.9 544.3,905.3 529.9,887.5"/>
<line x1="537.0" y1="883.7" x2="543.8" y2="904.3" stroke="#fff" stroke-width="1.6"/>
<polygon class="g" points="523.5,890.4 536.8,908.7 523.6,911.3 516.8,891.7"/>
<line x1="524.8" y1="891.6" x2="523.5" y2="910.2" stroke="#fff" stroke-width="1.6"/>
<polygon class="g" points="509.7,891.5 515.3,911.0 501.7,907.4 502.7,889.6"/>
<line x1="510.6" y1="893.1" x2="501.9" y2="906.4" stroke="#fff" stroke-width="1.6"/>
<polygon class="g" points="495.9,886.2 493.7,903.4 481.8,894.2 489.8,881.5"/>
<line x1="496.3" y1="888.1" x2="482.4" y2="893.4" stroke="#fff" stroke-width="1.6"/>
<polygon class="g" points="484.4,875.5 475.4,887.1 467.0,873.7 480.1,868.6"/>
<line x1="484.1" y1="877.2" x2="467.8" y2="873.2" stroke="#fff" stroke-width="1.6"/>
<polygon class="g" points="476.9,860.9 463.2,864.6 459.5,849.0 475.0,852.9"/>
<line x1="476.0" y1="862.3" x2="460.5" y2="848.9" stroke="#fff" stroke-width="1.6"/>
<polygon class="g" points="474.5,844.7 458.9,839.3 460.5,823.8 475.3,836.8"/>
<line x1="473.2" y1="845.5" x2="461.5" y2="824.2" stroke="#fff" stroke-width="1.6"/>
<polygon class="g" points="477.6,829.2 463.2,815.0 469.9,802.1 481.0,822.6"/>
<line x1="476.0" y1="829.4" x2="470.7" y2="802.8" stroke="#fff" stroke-width="1.6"/>
<polygon class="g" points="485.6,817.0 475.4,795.4 486.1,787.0 491.2,812.7"/>
<line x1="484.1" y1="816.5" x2="486.6" y2="788.1" stroke="#fff" stroke-width="1.6"/>
<polygon class="g" points="497.5,809.8 493.6,783.6 506.8,781.0 504.3,808.5"/>
<line x1="496.2" y1="808.6" x2="507.0" y2="782.1" stroke="#fff" stroke-width="1.6"/>
<polygon class="g" points="511.4,808.7 515.2,781.3 528.8,784.9 518.4,810.5"/>
<line x1="510.5" y1="807.1" x2="528.6" y2="786.0" stroke="#fff" stroke-width="1.6"/>
<polygon class="g" points="525.1,813.9 536.8,788.9 548.7,798.1 531.2,818.7"/>
<line x1="524.8" y1="812.1" x2="548.1" y2="798.9" stroke="#fff" stroke-width="1.6"/>
<polygon class="g" points="536.6,824.7 555.1,805.2 563.5,818.7 541.0,831.6"/>
<line x1="536.9" y1="822.9" x2="562.7" y2="819.1" stroke="#fff" stroke-width="1.6"/>
<circle class="g" cx="538.7" cy="840.9" r="1.9"/>
<circle class="g" cx="540.8" cy="853.0" r="1.9"/>
<circle class="g" cx="539.2" cy="864.8" r="1.9"/>
<circle class="g" cx="534.2" cy="874.8" r="1.9"/>
<circle class="g" cx="526.3" cy="881.8" r="1.9"/>
<circle class="g" cx="516.5" cy="885.0" r="1.9"/>
<circle class="g" cx="505.9" cy="884.0" r="1.9"/>
<circle class="g" cx="496.0" cy="878.9" r="1.9"/>
<circle class="g" cx="487.8" cy="870.3" r="1.9"/>
<circle class="g" cx="482.3" cy="859.3" r="1.9"/>
<circle class="g" cx="480.3" cy="847.1" r="1.9"/>
<circle class="g" cx="481.9" cy="835.4" r="1.9"/>
<circle class="g" cx="486.9" cy="825.4" r="1.9"/>
<circle class="g" cx="494.8" cy="818.4" r="1.9"/>
<circle class="g" cx="504.6" cy="815.2" r="1.9"/>
<circle class="g" cx="515.1" cy="816.2" r="1.9"/>
<circle class="g" cx="525.1" cy="821.3" r="1.9"/>
<circle class="g" cx="533.3" cy="829.9" r="1.9"/>
<ellipse class="g" cx="509.2" cy="850.5" rx="8.6" ry="10.4" transform="rotate(-18 509.2 850.5)"/>
<ellipse cx="512.1" cy="848.9" rx="14.5" ry="18" transform="rotate(-18 512.1 848.9)" fill="none" stroke="#9e9e9e" stroke-width="2" stroke-dasharray="52 50"/>
<ellipse cx="506.2" cy="852.4" rx="13" ry="17" transform="rotate(-18 506.2 852.4)" fill="none" stroke="#9e9e9e" stroke-width="1.8" stroke-dasharray="30 70" stroke-dashoffset="-40"/>
<ellipse class="w" cx="443.5" cy="857.3" rx="11" ry="14.5" transform="rotate(-20 443.5 857.3)"/>
<ellipse cx="441.9" cy="858.3" rx="2.2" ry="4" transform="rotate(-20 441.9 858.3)" fill="none" stroke="#9e9e9e" stroke-width="1.3"/>
<ellipse class="g" cx="466.2" cy="850.5" rx="5" ry="11" transform="rotate(-15 466.2 850.5)"/>
<path d="M451.4,846.6 Q456.3,854.4 454.3,862.2" fill="none" stroke="#9e9e9e" stroke-width="1.6"/>
<circle cx="613.0" cy="766.2" r="3.6" fill="none" stroke="#9e9e9e" stroke-width="1.5"/>
<circle cx="591.5" cy="848.5" r="4.2" fill="none" stroke="#9e9e9e" stroke-width="1.5"/>
<circle cx="642.4" cy="880.9" r="3.0" fill="none" stroke="#9e9e9e" stroke-width="1.5"/>
<circle cx="601.3" cy="860.3" r="1.5" fill="none" stroke="#9e9e9e" stroke-width="1.5"/>
<ellipse class="w" cx="730.1" cy="691.9" rx="27.5" ry="43" transform="rotate(-22 730.1 691.9)"/>
<path class="g" d="M710.1,671.9 L718.2,670.1 Q732.8,696.4 737.4,719.2 L730.1,722.8 Q711.0,703.7 710.1,671.9Z"/>
<line x1="712.8" y1="698.6" x2="728.3" y2="692.4" stroke="#fff" stroke-width="3.2"/>
<ellipse cx="730.1" cy="691.9" rx="22" ry="37.5" transform="rotate(-22 730.1 691.9)" fill="none" stroke="#9e9e9e" stroke-width="1.5" stroke-dasharray="9 26"/>
<polygon class="w" points="729.0,767.4 728.7,770.1 725.2,771.2 724.0,772.8 723.8,776.4 721.3,777.5 718.6,775.0 716.6,774.8 713.4,776.4 711.3,774.8 712.0,771.2 711.3,769.4 708.2,767.4 708.6,764.7 712.0,763.6 713.2,762.1 713.4,758.4 715.9,757.4 718.6,759.8 720.6,760.1 723.8,758.4 726.0,760.1 725.2,763.6 726.0,765.5"/><ellipse class="g" cx="718.1" cy="767.4" rx="2.6" ry="3.6"/>
<ellipse class="w" cx="762.5" cy="805.7" rx="14.2" ry="18.4" transform="rotate(-20 762.5 805.7)"/>
<path d="M761.9,796.2 Q771.4,803.8 768.8,816.6" fill="none" stroke="#9e9e9e" stroke-width="1.6"/>
<ellipse class="g" cx="742.8" cy="815.7" rx="12" ry="19.5" transform="rotate(-28 742.8 815.7)"/>
<ellipse class="w" cx="736.1" cy="813.8" rx="11.5" ry="19.5" transform="rotate(-28 736.1 813.8)"/>
<ellipse class="w" cx="706.8" cy="828.4" rx="17.5" ry="24" transform="rotate(-22 706.8 828.4)"/>
<ellipse cx="705.8" cy="829.4" rx="10" ry="15" transform="rotate(-22 706.8 828.4)" fill="none" stroke="#9e9e9e" stroke-width="3.2"/>
<ellipse cx="707.8" cy="830.4" rx="4.5" ry="9" transform="rotate(-22 706.8 828.4)" fill="none" stroke="#9e9e9e" stroke-width="2" stroke-dasharray="16 12"/>
<polygon class="w" points="734.6,846.6 742.8,837.5 745.5,840.6 757.9,835.7 759.7,839.9 749.2,844.2 745.5,849.7"/>
<!-- 70_battery.py -->
<g fill="none" stroke="#fff" stroke-width="4.4" stroke-linejoin="round" stroke-linecap="round">
<polyline points="1639.1,744.8 1709.1,714.6 1760.1,730.6 1686.4,763.7 1639.1,744.8"/>
<polyline points="1639.1,744.8 1617.4,773.2 1617.4,932.0 1690.2,954.7 1777.1,911.2 1777.1,754.3 1760.1,730.6"/>
<polyline points="1686.4,763.7 1690.2,803.4 1690.2,954.7"/>
<polyline points="1617.4,773.2 1690.2,803.4 1777.1,761.8"/>
<polyline points="1618.4,793.0 1689.2,811.9"/>
</g>
<g fill="none" stroke="#fff" stroke-width="2.6" stroke-linejoin="round" stroke-linecap="round">
<polyline points="1644.8,746.1 1709.1,720.6 1752.9,732.7 1687.4,758.4 1644.8,746.1"/>
<polyline points="1694.5,813.8 1773.7,778.8 1773.7,904.0 1694.5,941.8 1694.5,813.8"/>
<polyline points="1695.9,945.2 1752.6,918.7"/>
<polyline points="1758.2,915.9 1774.3,908.3"/>
<polyline points="1630.6,935.7 1630.6,919.7 1637.6,921.8 1637.6,928.6 1673.2,936.1 1673.2,929.3 1682.6,931.4 1682.6,944.3"/>
<polyline points="1632.5,932.9 1684.5,945.2"/>
<polyline points="1695.9,798.7 1703.4,794.9"/>
<polyline points="1711.0,795.9 1711.0,790.2 1718.5,787.4"/>
<polyline points="1726.1,788.3 1752.6,776.0"/>
<polyline points="1727.1,782.6 1750.7,772.2"/>
<polyline points="1760.1,775.1 1774.3,768.4"/>
<polyline points="1765.8,766.6 1774.3,763.7"/>
</g>
<path class="w" d="M1648.2,840.8 h8.4 v9.4 h7.6 v8.6 h-7.6 v10.4 h-8.4 v-10.4 h-7.6 v-8.6 h7.6z" transform="rotate(8 1652.4 854.8)"/>
<text x="1630.1" y="907.4" font-family="Liberation Sans, sans-serif" font-weight="700" font-style="italic" font-size="14" fill="#fff" textLength="46" lengthAdjust="spacingAndGlyphs" transform="rotate(12 1630.1 907.4)">AVMMIV</text>
<g fill="none" stroke="#fff" stroke-width="3.4" stroke-linejoin="round" stroke-linecap="round">
<polyline points="1659.0,746.7 1671.3,741.0 1684.5,746.7 1684.5,753.3 1673.2,755.2 1659.9,752.4 1659.0,746.7"/>
<polyline points="1673.2,738.2 1688.3,730.6 1703.4,733.5 1711.0,739.5 1695.9,746.7 1684.5,744.8"/>
<polyline points="1692.1,729.7 1703.4,727.8 1722.3,735.4 1726.1,738.2 1712.9,739.5"/>
<polyline points="1688.3,737.3 1703.4,737.3"/>
</g>
<!-- 80_small_a.py -->
<ellipse cx="1372.8" cy="734.6" rx="8.4" ry="11.3" transform="rotate(0 1372.8 734.6)" fill="none" stroke="#fff" stroke-width="3.2" stroke-dasharray="24 7 40"/>
<polygon class="w" points="1357.3,739.1 1369.1,740.9 1363.7,750.0"/>
<ellipse cx="1389.1" cy="730.0" rx="2.0" ry="2.0" transform="rotate(0 1389.1 730.0)" fill="none" stroke="#fff" stroke-width="2.2" />
<ellipse cx="1407.3" cy="734.6" rx="8.0" ry="12.0" transform="rotate(0 1407.3 734.6)" fill="none" stroke="#fff" stroke-width="3.4" />
<ellipse cx="1434.1" cy="735.5" rx="8.4" ry="11.6" transform="rotate(0 1434.1 735.5)" fill="none" stroke="#fff" stroke-width="3.4" />
<path d="M1471.0,739.1 Q1475.5,722.7 1493.7,722.7 Q1511.9,722.7 1515.9,736.4" fill="none" stroke="#fff" stroke-width="3.4"/>
<polygon class="w" points="1467.3,737.3 1476.4,739.1 1469.7,747.7"/>
<polygon class="w" points="1510.1,735.5 1519.2,733.7 1515.6,744.6"/>
<polygon class="w" points="1469.2,764.6 1496.5,750.0 1539.2,764.6 1539.2,778.2 1507.4,791.9 1469.2,779.1"/>
<polygon class="g" points="1475.5,771.3 1504.6,780.4 1504.6,785.5 1475.5,776.4"/>
<polygon class="g" points="1510.1,781.3 1533.7,772.2 1533.7,776.4 1510.1,786.6"/>
<polyline points="1477.4,763.7 1507.4,774.6 1523.7,767.7" fill="none" stroke="#9e9e9e" stroke-width="1.3"/>
<polyline class="l" stroke-width="4.6" stroke-linejoin="round" stroke-linecap="round"  points="1492.8,804.6 1492.8,822.2 1512.5,830.3"/>
<path class="w" d="M1525.6,823.7 L1544.7,814.2 Q1557.4,814.6 1558.3,825.5 L1552.8,835.5 L1543.8,843.7 Q1530.1,845.5 1525.0,835.5Z"/>
<ellipse class="g" cx="1537.4" cy="829.5" rx="4.4" ry="4.4" transform="rotate(0 1537.4 829.5)"/>
<ellipse class="g" cx="1552.8" cy="822.2" rx="2.4" ry="2.9" transform="rotate(0 1552.8 822.2)"/>
<polygon class="w" points="1559.6,840.1 1577.4,822.8 1593.8,828.3 1594.1,843.7 1575.6,853.7 1561.9,850.1"/>
<ellipse class="g" cx="1567.4" cy="841.0" rx="4.0" ry="5.1" transform="rotate(0 1567.4 841.0)"/>
<ellipse class="w" cx="1568.3" cy="840.6" rx="1.8" ry="2.5" transform="rotate(0 1568.3 840.6)"/>
<polygon class="g" points="1574.7,832.8 1582.0,827.3 1588.3,830.1 1582.0,835.5"/>
<polygon class="g" points="1582.9,839.2 1589.2,835.5 1589.2,841.9 1582.9,844.6"/>
<polygon class="g" points="1575.6,840.1 1580.1,838.3 1580.1,845.5 1575.6,847.0"/>
<polygon class="w" points="1481.0,901.9 1527.4,880.6 1552.3,889.2 1552.3,901.0 1538.3,905.9 1538.3,913.2 1504.6,926.9 1480.6,917.9"/>
<polygon class="g" points="1491.0,897.9 1497.4,895.6 1509.2,901.0 1502.8,903.7"/>
<polygon class="g" points="1507.4,893.7 1521.0,887.4 1529.2,891.0 1515.6,898.3"/>
<polygon class="g" points="1529.2,888.3 1533.7,886.5 1545.6,891.9 1536.5,896.5"/>
<polygon class="g" points="1519.6,904.1 1530.1,899.2 1530.1,909.2 1519.6,914.3"/>
<ellipse class="g" cx="1494.6" cy="911.0" rx="4.7" ry="3.6" transform="rotate(15 1494.6 911.0)"/>
<polyline class="l" stroke-width="4.4" stroke-linejoin="round" stroke-linecap="round" stroke-linecap="butt" points="1533.2,944.7 1533.2,934.7"/>
<polygon class="w" points="1533.2,924.8 1525.0,936.9 1541.4,936.9"/>
<!-- 81_small_b.py -->
<polyline class="l" stroke-width="4.2" stroke-linejoin="round" stroke-linecap="round"  points="1248.4,916.8 1301.3,890.4 1368.9,912.9 1369.5,927.6 1324.8,947.2 1313.1,946.2 1249.4,923.7 1248.4,916.8"/>
<polyline class="l" stroke-width="3.6" stroke-linejoin="round" stroke-linecap="round"  points="1248.4,916.8 1316.0,937.4 1368.9,912.9"/>
<polyline class="l" stroke-width="3.7" stroke-linejoin="round" stroke-linecap="round"  points="1316.0,937.4 1316.0,946.2"/>
<polyline class="l" stroke-width="3.7" stroke-linejoin="round" stroke-linecap="round"  points="1332.6,930.5 1333.6,942.3"/>
<polyline class="l" stroke-width="3.7" stroke-linejoin="round" stroke-linecap="round"  points="1352.2,921.7 1352.8,934.5"/>
<polyline class="l" stroke-width="3.7" stroke-linejoin="round" stroke-linecap="round"  points="1279.7,902.1 1344.4,924.7"/>
<polyline class="l" stroke-width="3.7" stroke-linejoin="round" stroke-linecap="round"  points="1264.1,910.0 1330.7,931.5"/>
<polyline class="l" stroke-width="3.7" stroke-linejoin="round" stroke-linecap="round"  points="1279.7,926.6 1336.6,901.2"/>
<polyline class="l" stroke-width="3.7" stroke-linejoin="round" stroke-linecap="round"  points="1297.4,932.5 1352.2,907.0"/>
<ellipse cx="1271.9" cy="913.9" rx="4.3" ry="2.4" transform="rotate(0 1271.9 913.9)" fill="none" stroke="#fff" stroke-width="3.3" />
<ellipse cx="1289.5" cy="918.8" rx="4.7" ry="2.5" transform="rotate(0 1289.5 918.8)" fill="none" stroke="#fff" stroke-width="3.3" />
<ellipse cx="1307.2" cy="904.1" rx="5.9" ry="2.7" transform="rotate(0 1307.2 904.1)" fill="none" stroke="#fff" stroke-width="3.3" />
<ellipse cx="1320.9" cy="926.6" rx="6.3" ry="3.1" transform="rotate(0 1320.9 926.6)" fill="none" stroke="#fff" stroke-width="3.3" />
<ellipse cx="1342.4" cy="915.8" rx="5.1" ry="2.5" transform="rotate(0 1342.4 915.8)" fill="none" stroke="#fff" stroke-width="3.3" />
<ellipse cx="1295.4" cy="902.1" rx="3.5" ry="2.0" transform="rotate(0 1295.4 902.1)" fill="none" stroke="#fff" stroke-width="3.3" />
<ellipse cx="1330.7" cy="910.0" rx="4.3" ry="2.2" transform="rotate(0 1330.7 910.0)" fill="none" stroke="#fff" stroke-width="3.3" />
<ellipse cx="1352.2" cy="912.9" rx="3.9" ry="2.0" transform="rotate(0 1352.2 912.9)" fill="none" stroke="#fff" stroke-width="3.3" />
<polyline class="l" stroke-width="4" stroke-linejoin="round" stroke-linecap="round"  points="1199.4,1041.3 1234.7,1025.6"/>
<polyline class="l" stroke-width="4.4" stroke-linejoin="round" stroke-linecap="round"  points="1342.4,1032.4 1414.0,1059.9 1414.0,1064.8 1305.2,1116.7 1256.2,1098.1 1256.2,1059.9"/>
<polyline class="l" stroke-width="3.6" stroke-linejoin="round" stroke-linecap="round"  points="1199.4,1041.3 1199.4,1048.1 1217.0,1042.2"/>
<polyline class="l" stroke-width="3.4" stroke-linejoin="round" stroke-linecap="round"  points="1202.3,1042.2 1240.5,1049.1 1256.2,1042.2"/>
<polyline class="l" stroke-width="3.6" stroke-linejoin="round" stroke-linecap="round"  points="1305.2,1116.7 1303.3,1101.0 1256.2,1083.4"/>
<polyline class="l" stroke-width="3.6" stroke-linejoin="round" stroke-linecap="round"  points="1303.3,1101.0 1324.8,1094.2 1326.8,1098.1 1315.0,1105.0"/>
<polyline class="l" stroke-width="3" stroke-linejoin="round" stroke-linecap="round"  points="1260.1,1091.2 1295.4,1104.0"/>
<polygon class="w" points="1234.7,1025.6 1279.7,1005.0 1346.4,1030.5 1347.3,1034.4 1305.2,1056.0 1301.3,1056.0 1235.6,1030.5"/>
<polygon class="g" points="1249.4,1025.6 1279.7,1010.9 1329.7,1029.5 1303.3,1051.1"/>
<polyline class="l" stroke-width="4" stroke-linejoin="round" stroke-linecap="round"  points="1264.1,1047.1 1268.0,1063.8 1295.4,1073.6 1307.2,1076.5 1338.5,1061.8 1338.5,1036.4"/>
<polyline class="l" stroke-width="3.6" stroke-linejoin="round" stroke-linecap="round"  points="1305.2,1056.0 1307.2,1076.5"/>
<polyline class="l" stroke-width="3.4" stroke-linejoin="round" stroke-linecap="round"  points="1330.7,1043.2 1331.7,1064.8"/>
<polyline class="l" stroke-width="3.2" stroke-linejoin="round" stroke-linecap="round"  points="1305.2,1057.9 1324.8,1065.8 1326.8,1048.1"/>
<polyline class="l" stroke-width="3.6" stroke-linejoin="round" stroke-linecap="round"  points="1256.2,1059.9 1291.5,1071.6 1297.4,1075.6 1291.5,1081.4 1256.2,1070.7"/>
<polyline class="l" stroke-width="3.6" stroke-linejoin="round" stroke-linecap="round"  points="1242.5,1051.1 1256.2,1045.2 1264.1,1047.1"/>
<polyline class="l" stroke-width="3.4" stroke-linejoin="round" stroke-linecap="round"  points="1242.5,1051.1 1244.5,1056.0 1256.2,1059.9"/>
<ellipse class="w" cx="1206.3" cy="1072.6" rx="15.3" ry="19.6" transform="rotate(-18 1206.3 1072.6)"/>
<polygon class="w" points="1209.2,1053.0 1234.7,1054.0 1242.5,1063.8 1241.5,1077.5 1228.8,1087.3 1215.1,1091.2"/>
<ellipse cx="1205.9" cy="1073.2" rx="10.2" ry="14.1" transform="rotate(-18 1205.9 1073.2)" fill="none" stroke="#9e9e9e" stroke-width="2"/>
<ellipse cx="1207.2" cy="1073.6" rx="4.3" ry="7.8" transform="rotate(-18 1207.2 1073.6)" fill="none" stroke="#9e9e9e" stroke-width="3" stroke-dasharray="14 8"/>
<ellipse cx="1216.1" cy="1070.7" rx="13.7" ry="19.2" transform="rotate(-18 1216.1 1070.7)" fill="none" stroke="#9e9e9e" stroke-width="1.6" stroke-dasharray="50 200" stroke-dashoffset="25"/>
<line x1="1221.3" y1="1057.9" x2="1228.8" y2="1056.7" stroke="#9e9e9e" stroke-width="1.5"/>
<line x1="1223.3" y1="1062.2" x2="1230.7" y2="1061.1" stroke="#9e9e9e" stroke-width="1.5"/>
<line x1="1225.3" y1="1066.5" x2="1232.7" y2="1065.4" stroke="#9e9e9e" stroke-width="1.5"/>
<line x1="1227.2" y1="1070.9" x2="1234.7" y2="1069.7" stroke="#9e9e9e" stroke-width="1.5"/>
<line x1="1229.2" y1="1075.2" x2="1236.6" y2="1074.0" stroke="#9e9e9e" stroke-width="1.5"/>
<line x1="1231.1" y1="1079.5" x2="1238.6" y2="1078.3" stroke="#9e9e9e" stroke-width="1.5"/>
<polygon class="g" points="1243.5,1063.8 1254.3,1057.9 1254.3,1077.5 1245.4,1081.4"/>
<polygon class="g" points="1209.2,1049.1 1219.0,1045.2 1222.9,1051.1 1214.1,1054.0"/>
<ellipse class="w" cx="1360.1" cy="1063.8" rx="16.1" ry="8.2" transform="rotate(0 1360.1 1063.8)"/>
<polygon class="w" points="1344.0,1056.9 1376.2,1056.9 1376.2,1063.8 1344.0,1063.8"/>
<ellipse class="w" cx="1360.1" cy="1056.6" rx="16.1" ry="8.2" transform="rotate(0 1360.1 1056.6)"/>
<ellipse cx="1360.1" cy="1056.6" rx="9.4" ry="4.3" fill="none" stroke="#9e9e9e" stroke-width="2"/>
<path d="M1345.4,1063.8 Q1360.1,1072.6 1374.8,1063.8" fill="none" stroke="#9e9e9e" stroke-width="1.8" stroke-dasharray="6 5"/>
<polyline class="l" stroke-width="4.2" stroke-linejoin="round" stroke-linecap="round"  points="1498.0,954.5 1408.1,995.8"/>
<polygon class="w" points="1394.4,1002.5 1404.2,990.3 1411.0,1004.0"/>
<!-- 82_small_c.py -->
<ellipse class="w" cx="1853.7" cy="711.4" rx="21.2" ry="27.3" transform="rotate(-18 1853.7 711.4)"/>
<ellipse cx="1854.0" cy="711.8" rx="15.8" ry="21.6" transform="rotate(-18 1854.0 711.8)" fill="none" stroke="#9e9e9e" stroke-width="3.2" />
<path class="g" d="M1851.0,697.9 Q1842.9,706.0 1850.1,716.8 Q1855.5,725.8 1863.6,724.0 Q1864.5,716.8 1859.1,713.2 Q1860.9,707.8 1856.4,706.0 Q1857.3,700.6 1851.0,697.9Z"/>
<line x1="1808.8" y1="728.5" x2="1824.9" y2="787.8" stroke="#fff" stroke-width="19" stroke-linecap="round"/>
<polygon class="g" points="1803.9,735.1 1808.0,733.9 1821.7,784.2 1817.7,785.4"/>
<polygon class="g" points="1811.6,732.6 1815.9,731.4 1829.6,781.9 1825.3,783.1"/>
<polygon class="w" points="1984.0,731.2 1982.0,734.5 1983.3,738.2 1980.7,740.9 1981.3,744.8 1978.3,746.8 1978.1,750.8 1974.8,751.9 1973.8,755.8 1970.4,756.0 1968.7,759.6 1965.3,758.8 1963.0,761.9 1959.8,760.3 1957.0,762.7 1954.2,760.3 1951.0,761.9 1948.7,758.8 1945.3,759.6 1943.6,756.0 1940.2,755.8 1939.2,751.9 1935.9,750.8 1935.7,746.8 1932.7,744.8 1933.3,740.9 1930.7,738.2 1932.0,734.5 1930.0,731.2 1932.0,727.9 1930.7,724.2 1933.3,721.5 1932.7,717.5 1935.7,715.6 1935.9,711.5 1939.2,710.5 1940.2,706.5 1943.6,706.4 1945.3,702.8 1948.7,703.5 1951.0,700.5 1954.2,702.1 1957.0,699.7 1959.8,702.1 1963.0,700.5 1965.3,703.5 1968.7,702.8 1970.4,706.4 1973.8,706.5 1974.8,710.5 1978.1,711.5 1978.3,715.6 1981.3,717.5 1980.7,721.5 1983.3,724.2 1982.0,727.9" transform="rotate(-15 1957.0 731.2)"/>
<ellipse cx="1955.2" cy="732.1" rx="18.0" ry="22.5" transform="rotate(-15 1955.2 732.1)" fill="none" stroke="#9e9e9e" stroke-width="4" />
<ellipse cx="1959.7" cy="730.3" rx="21.2" ry="25.2" transform="rotate(-15 1959.7 730.3)" fill="none" stroke="#9e9e9e" stroke-width="1.6" stroke-dasharray="70 200" stroke-dashoffset="-150"/>
<ellipse class="g" cx="1951.6" cy="723.1" rx="0.9" ry="1.6" transform="rotate(20 1951.6 723.1)"/>
<ellipse class="w" cx="2010.9" cy="663.3" rx="34.5" ry="41.7" transform="rotate(-20 2010.9 663.3)"/>
<ellipse class="g" cx="2000.7" cy="672.8" rx="15.8" ry="21.9" transform="rotate(-22 2000.7 672.8)"/>
<ellipse cx="2003.7" cy="671.0" rx="20.1" ry="27.0" transform="rotate(-22 2003.7 671.0)" fill="none" stroke="#9e9e9e" stroke-width="2.4" stroke-dasharray="40 8 60 10"/>
<polygon class="g" points="2019.9,640.4 2028.0,638.6 2038.8,653.9 2039.7,662.0 2031.6,659.3"/>
<polygon class="g" points="2000.1,640.4 2011.8,646.7 2009.1,649.4 1998.3,644.0"/>
<polygon class="g" points="1981.3,638.6 1988.4,634.1 1986.6,642.2 1979.5,647.6"/>
<polygon class="g" points="2031.6,671.9 2040.6,673.7 2039.7,680.9 2031.6,679.1"/>
<ellipse class="g" cx="2035.2" cy="685.4" rx="4.0" ry="5.4" transform="rotate(20 2035.2 685.4)"/>
<polygon class="g" points="2029.8,694.3 2038.8,690.7 2036.1,697.0 2028.0,699.7"/>
<polygon class="g" points="2017.2,653.0 2021.7,652.1 2022.6,656.6 2018.1,657.1"/>
<ellipse cx="2008.6" cy="628.8" rx="7.5" ry="1.6" transform="rotate(-8 2008.6 628.8)" fill="none" stroke="#9e9e9e" stroke-width="1.8" />
<ellipse cx="2008.6" cy="631.3" rx="6.5" ry="1.6" transform="rotate(-8 2008.6 631.3)" fill="none" stroke="#9e9e9e" stroke-width="1.8" />
<ellipse cx="2008.6" cy="633.8" rx="5.4" ry="1.6" transform="rotate(-8 2008.6 633.8)" fill="none" stroke="#9e9e9e" stroke-width="1.8" />
<polygon class="g" points="1977.7,655.7 1979.8,653.9 1979.8,662.9 1977.7,662.0"/>
<ellipse class="w" cx="2017.2" cy="749.1" rx="24.6" ry="32.0" transform="rotate(-14 2017.2 749.1)"/>
<polygon class="g" points="2006.4,725.8 2019.0,721.3 2020.8,725.8 2009.1,730.3"/>
<polygon class="g" points="2021.7,733.9 2031.6,730.3 2037.9,745.6 2038.8,761.7 2031.6,766.2 2028.0,752.7"/>
<ellipse cx="2009.1" cy="745.9" rx="1.6" ry="3.2" transform="rotate(0 2009.1 745.9)" fill="none" stroke="#9e9e9e" stroke-width="2.4" />
<ellipse cx="2013.6" cy="750.9" rx="17.1" ry="23.4" transform="rotate(-14 2013.6 750.9)" fill="none" stroke="#9e9e9e" stroke-width="1.6" stroke-dasharray="30 220" stroke-dashoffset="-120"/>
<polygon class="g" points="2000.1,742.0 2001.4,741.1 2001.4,752.7 2000.1,752.7"/>
<polyline class="l" stroke-width="5" stroke-linejoin="round" stroke-linecap="round" stroke-linejoin="miter" stroke-linecap="butt" points="2045.6,684.5 2067.2,691.6 2067.2,722.6 2082.2,727.6"/>
<polygon class="w" points="2072.5,732.6 2077.4,733.9 2077.4,763.2 2072.5,761.4"/>
<polygon class="w" points="2064.8,756.0 2070.2,756.7 2070.2,767.5 2103.8,777.0 2102.0,782.6 2064.8,772.0"/>
<polygon class="g" points="2074.7,772.1 2096.3,778.3 2095.4,779.7 2074.7,773.9"/>
<polyline class="l" stroke-width="3.6" stroke-linejoin="round" stroke-linecap="round" stroke-linecap="butt" points="2062.1,786.9 2062.1,800.0"/>
<polygon class="w" points="2093.6,635.9 2141.2,610.4 2178.6,622.5 2180.4,738.4 2132.6,763.9 2093.6,749.5"/>
<polygon class="g" points="2136.7,652.5 2175.0,634.1 2175.3,736.6 2137.6,756.0"/>
<polygon class="g" points="2131.3,651.2 2134.4,650.0 2135.8,758.1 2132.6,759.9"/>
<ellipse class="g" cx="2114.2" cy="719.0" rx="11.5" ry="14.7" transform="rotate(-8 2114.2 719.0)"/>
<polygon class="g" points="2098.1,653.9 2103.5,648.5 2105.2,659.3 2101.7,662.9 2099.0,661.1"/>
<polygon class="g" points="2098.4,684.5 2103.5,693.4 2101.7,707.8 2098.4,715.0"/>
<polygon class="g" points="2121.4,689.8 2127.7,686.3 2128.6,700.6 2124.1,697.0"/>
<polygon class="g" points="2103.5,742.0 2112.4,749.1 2121.4,745.6 2117.8,754.5 2108.8,752.7"/>
<polygon class="g" points="2099.9,725.8 2103.5,736.6 2101.7,745.6 2099.0,743.8"/>
<ellipse class="g" cx="2108.5" cy="657.9" rx="1.6" ry="1.6" transform="rotate(0 2108.5 657.9)"/>
<ellipse class="g" cx="2114.6" cy="661.1" rx="1.3" ry="1.3" transform="rotate(0 2114.6 661.1)"/>
<ellipse class="g" cx="2102.6" cy="671.5" rx="1.1" ry="1.1" transform="rotate(0 2102.6 671.5)"/>
<ellipse class="g" cx="2112.4" cy="667.4" rx="0.9" ry="0.9" transform="rotate(0 2112.4 667.4)"/>
<ellipse class="g" cx="2118.7" cy="671.0" rx="1.1" ry="1.1" transform="rotate(0 2118.7 671.0)"/>
<ellipse class="g" cx="2106.7" cy="679.1" rx="1.1" ry="1.1" transform="rotate(0 2106.7 679.1)"/>
<ellipse class="g" cx="2117.8" cy="677.6" rx="0.9" ry="0.9" transform="rotate(0 2117.8 677.6)"/>
<ellipse class="g" cx="2110.6" cy="681.8" rx="0.9" ry="0.9" transform="rotate(0 2110.6 681.8)"/>
<ellipse class="g" cx="2098.4" cy="638.6" rx="1.3" ry="1.3" transform="rotate(0 2098.4 638.6)"/>
<polygon class="g" points="2119.6,627.0 2137.6,618.0 2150.2,621.2 2132.2,630.5"/>
<polygon class="w" points="2138.5,625.2 2146.6,621.6 2152.9,623.4 2144.8,627.3"/>
<polygon class="g" points="2110.6,634.1 2117.8,630.9 2132.2,635.9 2125.0,639.2"/>
<polygon class="g" points="2153.8,626.6 2166.3,621.6 2168.1,623.0 2155.6,628.4"/>
<polygon class="w" points="2136.7,652.5 2139.4,651.2 2139.4,661.1 2136.7,662.0"/>
<!-- 83_small_d.py -->
<polyline class="l" stroke-width="4.4" stroke-linejoin="round" stroke-linecap="round"  points="1828.9,881.6 1927.5,834.3 2004.1,859.1 2004.6,867.9 1911.5,913.2 1828.3,887.8 1828.9,881.6"/>
<polyline class="l" stroke-width="4" stroke-linejoin="round" stroke-linecap="round"  points="1828.9,881.6 1909.9,907.3 2004.1,859.1"/>
<polyline class="l" stroke-width="3.4" stroke-linejoin="round" stroke-linecap="round"  points="1909.9,907.3 1911.5,913.2"/>
<polyline class="l" stroke-width="3.6" stroke-linejoin="round" stroke-linecap="round"  points="1960.7,876.1 1961.7,885.5"/>
<polyline class="l" stroke-width="4" stroke-linejoin="round" stroke-linecap="round"  points="1894.3,853.8 1960.7,876.1"/>
<polyline class="l" stroke-width="4" stroke-linejoin="round" stroke-linecap="round"  points="1867.0,886.8 1910.3,865.9 1952.5,881.6 1906.4,903.4 1867.0,886.8"/>
<polyline class="l" stroke-width="3" stroke-linejoin="round" stroke-linecap="round"  points="1877.7,887.4 1909.5,872.4 1941.2,882.9 1906.4,899.1 1877.7,887.4"/>
<polyline class="l" stroke-width="3" stroke-linejoin="round" stroke-linecap="round"  points="1923.6,837.0 1941.2,842.1 1937.7,844.8 1927.5,842.1"/>
<polyline class="l" stroke-width="3" stroke-linejoin="round" stroke-linecap="round"  points="1976.3,854.6 1992.0,857.7 1989.0,860.1"/>
<polyline class="l" stroke-width="3" stroke-linejoin="round" stroke-linecap="round"  points="1831.8,884.5 1849.4,889.4"/>
<polyline class="l" stroke-width="3" stroke-linejoin="round" stroke-linecap="round"  points="1911.9,909.9 1927.5,902.1"/>
<polyline class="l" stroke-width="3.8" stroke-linejoin="round" stroke-linecap="round" stroke-linejoin="miter" stroke-linecap="butt" points="2061.9,785.9 2061.9,837.6 2030.0,852.7"/>
<polygon class="w" points="2016.0,859.5 2026.1,847.4 2033.0,860.1"/>
<polyline class="l" stroke-width="4.2" stroke-linejoin="round" stroke-linecap="round" stroke-linejoin="miter" stroke-linecap="butt" points="2087.7,859.1 2087.7,830.4 2112.1,838.0"/>
<polygon class="w" points="2125.2,837.2 2112.7,829.2 2110.1,844.1"/>
<ellipse cx="2151.1" cy="836.6" rx="7.8" ry="9.0" transform="rotate(-15 2151.1 836.6)" fill="none" stroke="#fff" stroke-width="3.6" />
<ellipse cx="2149.8" cy="834.7" rx="2.0" ry="2.0" transform="rotate(0 2149.8 834.7)" fill="none" stroke="#fff" stroke-width="2.4" />
<polyline class="l" stroke-width="2.4" stroke-linejoin="round" stroke-linecap="round"  points="2147.2,838.6 2150.2,840.9 2153.7,838.6"/>
<polyline class="l" stroke-width="3.4" stroke-linejoin="round" stroke-linecap="round"  points="2158.0,832.3 2163.8,829.2 2164.2,816.1 2160.3,815.2 2160.3,809.7 2166.8,807.7"/>
<polyline class="l" stroke-width="4" stroke-linejoin="round" stroke-linecap="round" stroke-linejoin="miter" stroke-linecap="butt" points="2160.3,809.7 2184.3,799.1 2184.3,876.7 2165.8,883.9"/>
<polygon class="w" points="2155.6,887.8 2164.2,880.0 2167.7,887.8"/>
<polyline class="l" stroke-width="4.6" stroke-linejoin="round" stroke-linecap="round" stroke-linecap="butt" points="2142.0,887.4 2120.9,887.4"/>
<polygon class="w" points="2108.2,887.0 2122.0,879.6 2122.0,894.8"/>
<line x1="2056.0" y1="896.8" x2="2088.0" y2="883.1" stroke="#fff" stroke-width="13.5" stroke-linecap="round"/>
<polygon class="g" points="2062.3,894.3 2080.8,886.4 2082.2,890.0 2063.6,897.8"/>
<ellipse class="g" cx="2054.8" cy="898.0" rx="1.8" ry="2.5" transform="rotate(20 2054.8 898.0)"/>
<ellipse class="g" cx="2088.8" cy="882.3" rx="1.8" ry="2.5" transform="rotate(20 2088.8 882.3)"/>
<polyline class="l" stroke-width="3.8" stroke-linejoin="round" stroke-linecap="round"  points="1937.7,953.0 2024.2,913.2"/>
<polygon class="w" points="2020.9,909.7 2027.1,906.0 2044.1,912.8 2035.3,919.1 2025.5,915.2"/>
<polygon class="g" points="2034.9,911.8 2040.8,913.2 2036.5,915.5"/>
<ellipse cx="1825.9" cy="938.2" rx="15.6" ry="15.4" transform="rotate(0 1825.9 938.2)" fill="none" stroke="#fff" stroke-width="4.8" />
<ellipse class="w" cx="1794.7" cy="956.8" rx="14.1" ry="7.0" transform="rotate(0 1794.7 956.8)"/>
<polygon class="w" points="1780.6,952.9 1808.8,952.9 1808.8,956.8 1780.6,956.8"/>
<ellipse class="w" cx="1794.7" cy="952.3" rx="14.1" ry="7.0" transform="rotate(0 1794.7 952.3)"/>
<ellipse cx="1794.7" cy="951.9" rx="9.4" ry="3.9" transform="rotate(0 1794.7 951.9)" fill="none" stroke="#9e9e9e" stroke-width="2.2" />
<ellipse cx="1769.3" cy="965.9" rx="7.4" ry="4.7" transform="rotate(-25 1769.3 965.9)" fill="none" stroke="#fff" stroke-width="4" />
<polyline class="l" stroke-width="3.4" stroke-linejoin="round" stroke-linecap="round"  points="1776.1,962.6 1781.4,959.3"/>
<line x1="1828.9" y1="968.5" x2="1825.4" y2="995.8" stroke="#fff" stroke-width="14" stroke-linecap="round"/>
<ellipse class="g" cx="1828.9" cy="969.1" rx="1.2" ry="2.1" transform="rotate(20 1828.9 969.1)"/>
<ellipse class="g" cx="1827.5" cy="979.6" rx="1.2" ry="2.1" transform="rotate(20 1827.5 979.6)"/>
<ellipse class="g" cx="1825.9" cy="993.3" rx="1.2" ry="2.1" transform="rotate(20 1825.9 993.3)"/>
<polygon class="w" points="1846.4,985.5 1857.2,978.2 1857.2,982.7 1862.7,983.1 1863.4,988.6 1858.0,988.2 1858.8,992.5"/>
<ellipse cx="2117.3" cy="959.7" rx="7.4" ry="9.4" transform="rotate(-18 2117.3 959.7)" fill="none" stroke="#fff" stroke-width="4.2" />
<polyline class="l" stroke-width="4.6" stroke-linejoin="round" stroke-linecap="round"  points="1876.4,982.3 1929.6,956.2 1991.9,976.6 1935.3,1003.8 1876.4,982.3"/>
<polyline class="l" stroke-width="4.6" stroke-linejoin="round" stroke-linecap="round"  points="1876.4,982.3 1876.4,998.2 1935.3,1022.4 1935.3,1003.8"/>
<polyline class="l" stroke-width="4.6" stroke-linejoin="round" stroke-linecap="round"  points="1935.3,1022.4 1993.0,992.9 1991.9,976.6"/>
<polyline class="l" stroke-width="4.4" stroke-linejoin="round" stroke-linecap="round"  points="1876.4,988.0 1861.2,997.0 1931.4,1023.8 2023.6,977.1 2023.6,971.0 1981.3,957.4 1969.2,963.5"/>
<polyline class="l" stroke-width="4" stroke-linejoin="round" stroke-linecap="round"  points="1970.8,968.7 1981.7,962.6 2013.4,973.5 1998.0,981.6"/>
<polyline class="l" stroke-width="3.4" stroke-linejoin="round" stroke-linecap="round"  points="1998.0,981.6 1998.7,988.0"/>
<polyline class="l" stroke-width="3" stroke-linejoin="round" stroke-linecap="round"  points="1865.0,997.0 1875.2,992.0"/>
<polyline class="l" stroke-width="3.8" stroke-linejoin="round" stroke-linecap="round"  points="1937.5,956.2 2015.7,918.9"/>
<polyline class="l" stroke-width="3.8" stroke-linejoin="round" stroke-linecap="round"  points="1807.3,1049.1 1858.2,1024.2"/>
<ellipse class="w" cx="1777.8" cy="1071.8" rx="18.6" ry="23.1" transform="rotate(-15 1777.8 1071.8)"/>
<ellipse cx="1777.4" cy="1072.2" rx="11.3" ry="15.4" transform="rotate(-15 1777.4 1072.2)" fill="none" stroke="#9e9e9e" stroke-width="3.4" stroke-dasharray="75 25"/>
<ellipse class="g" cx="1774.4" cy="1070.0" rx="3.2" ry="5.4" transform="rotate(-15 1774.4 1070.0)"/>
<polyline class="l" stroke-width="4.4" stroke-linejoin="round" stroke-linecap="round"  points="1695.1,1095.6 1730.2,1075.2 1760.1,1086.5 1760.8,1092.6 1728.0,1111.7 1695.1,1100.6 1695.1,1095.6"/>
<polyline class="l" stroke-width="3.8" stroke-linejoin="round" stroke-linecap="round"  points="1695.1,1095.6 1728.0,1106.2 1760.1,1086.5"/>
<polyline class="l" stroke-width="3.2" stroke-linejoin="round" stroke-linecap="round"  points="1728.0,1106.2 1728.0,1111.7"/>
<polyline class="l" stroke-width="2.4" stroke-linejoin="round" stroke-linecap="round"  points="1706.4,1095.6 1731.4,1081.3 1751.8,1088.8 1727.5,1101.7 1706.4,1095.6"/>
<line x1="1844.6" y1="1082.7" x2="1875.2" y2="1068.8" stroke="#fff" stroke-width="11.5" stroke-linecap="round"/>
<polygon class="g" points="1852.6,1079.7 1871.8,1071.3 1873.0,1074.5 1853.9,1083.1"/>
<polygon class="w" points="1892.7,1058.6 1872.5,1060.9 1881.6,1076.8"/>
<ellipse cx="1963.6" cy="1067.7" rx="13.6" ry="7.7" transform="rotate(-22 1963.6 1067.7)" fill="none" stroke="#fff" stroke-width="5" />
<ellipse cx="1962.4" cy="1068.4" rx="6.3" ry="2.3" transform="rotate(-22 1962.4 1068.4)" fill="none" stroke="#fff" stroke-width="2.4" />
<polyline class="l" stroke-width="3.6" stroke-linejoin="round" stroke-linecap="round"  points="1976.7,1060.9 2072.3,1010.6"/>
<polyline class="l" stroke-width="3.6" stroke-linejoin="round" stroke-linecap="round"  points="1999.8,1042.3 2004.8,1049.6"/>
<!-- 84_small_e.py -->
<ellipse class="w" cx="1596.2" cy="624.0" rx="20.6" ry="23.5" transform="rotate(-25 1596.2 624.0)"/>
<ellipse class="w" cx="1621.0" cy="632.8" rx="7.8" ry="7.0" transform="rotate(0 1621.0 632.8)"/>
<ellipse class="g" cx="1593.5" cy="625.0" rx="4.8" ry="5.8" transform="rotate(-20 1593.5 625.0)"/>
<ellipse class="w" cx="1593.5" cy="625.2" rx="2.2" ry="3.0" transform="rotate(-20 1593.5 625.2)"/>
<ellipse class="g" cx="1593.5" cy="625.2" rx="2.2" ry="3.0" transform="rotate(-20 1593.5 625.2)"/>
<ellipse class="g" cx="1583.8" cy="615.0" rx="2.0" ry="2.8" transform="rotate(-20 1583.8 615.0)"/>
<ellipse class="g" cx="1604.6" cy="633.1" rx="2.0" ry="2.8" transform="rotate(-20 1604.6 633.1)"/>
<path d="M1595.6,606.2 Q1603.1,608.8 1602.5,615.6" fill="none" stroke="#9e9e9e" stroke-width="1.5"/>
<path d="M1626.2,601.2 Q1635.0,593.1 1646.2,600.0 Q1637.5,608.1 1647.5,609.4 Q1666.2,606.2 1664.8,616.9 Q1660.0,625.6 1646.2,627.5" fill="none" stroke="#fff" stroke-width="7.6" stroke-linecap="round" stroke-linejoin="round"/>
<ellipse class="w" cx="1630.0" cy="600.6" rx="6.9" ry="5.6" transform="rotate(0 1630.0 600.6)"/>
<ellipse class="g" cx="1632.9" cy="599.6" rx="3.8" ry="2.8" transform="rotate(-10 1632.9 599.6)"/>
<polyline class="l" stroke-width="5" stroke-linejoin="round" stroke-linecap="round"  points="1646.2,626.2 1638.1,624.0"/>
<polyline class="l" stroke-width="4" stroke-linejoin="round" stroke-linecap="round"  points="1647.5,628.1 1640.0,630.0"/>
<path class="w" d="M1670.0,575.6 L1701.2,556.5 Q1716.2,552.5 1726.9,560.6 L1731.5,580.0 L1701.2,598.8 L1690.0,602.8 L1678.8,600.2 L1672.2,590.0Z"/>
<ellipse class="g" cx="1716.9" cy="565.8" rx="5.2" ry="3.5" transform="rotate(25 1716.9 565.8)"/>
<ellipse class="g" cx="1677.5" cy="583.1" rx="0.9" ry="1.1" transform="rotate(0 1677.5 583.1)"/>
<ellipse class="g" cx="1682.5" cy="581.6" rx="0.9" ry="1.1" transform="rotate(0 1682.5 581.6)"/>
<ellipse class="g" cx="1687.5" cy="580.1" rx="0.9" ry="1.1" transform="rotate(0 1687.5 580.1)"/>
<ellipse class="g" cx="1692.5" cy="578.6" rx="0.9" ry="1.1" transform="rotate(0 1692.5 578.6)"/>
<ellipse class="g" cx="1697.5" cy="577.1" rx="0.9" ry="1.1" transform="rotate(0 1697.5 577.1)"/>
<ellipse class="g" cx="1678.2" cy="586.6" rx="0.9" ry="1.1" transform="rotate(0 1678.2 586.6)"/>
<ellipse class="g" cx="1683.2" cy="585.1" rx="0.9" ry="1.1" transform="rotate(0 1683.2 585.1)"/>
<ellipse class="g" cx="1688.2" cy="583.6" rx="0.9" ry="1.1" transform="rotate(0 1688.2 583.6)"/>
<ellipse class="g" cx="1693.2" cy="582.1" rx="0.9" ry="1.1" transform="rotate(0 1693.2 582.1)"/>
<ellipse class="g" cx="1698.2" cy="580.6" rx="0.9" ry="1.1" transform="rotate(0 1698.2 580.6)"/>
<ellipse class="g" cx="1679.0" cy="590.1" rx="0.9" ry="1.1" transform="rotate(0 1679.0 590.1)"/>
<ellipse class="g" cx="1684.0" cy="588.6" rx="0.9" ry="1.1" transform="rotate(0 1684.0 588.6)"/>
<ellipse class="g" cx="1689.0" cy="587.1" rx="0.9" ry="1.1" transform="rotate(0 1689.0 587.1)"/>
<ellipse class="g" cx="1694.0" cy="585.6" rx="0.9" ry="1.1" transform="rotate(0 1694.0 585.6)"/>
<ellipse class="g" cx="1699.0" cy="584.1" rx="0.9" ry="1.1" transform="rotate(0 1699.0 584.1)"/>
<ellipse class="g" cx="1679.8" cy="593.6" rx="0.9" ry="1.1" transform="rotate(0 1679.8 593.6)"/>
<ellipse class="g" cx="1684.8" cy="592.1" rx="0.9" ry="1.1" transform="rotate(0 1684.8 592.1)"/>
<ellipse class="g" cx="1689.8" cy="590.6" rx="0.9" ry="1.1" transform="rotate(0 1689.8 590.6)"/>
<ellipse class="g" cx="1694.8" cy="589.1" rx="0.9" ry="1.1" transform="rotate(0 1694.8 589.1)"/>
<ellipse class="g" cx="1699.8" cy="587.6" rx="0.9" ry="1.1" transform="rotate(0 1699.8 587.6)"/>
<polygon class="g" points="1691.9,576.2 1694.4,575.4 1698.8,588.1 1696.5,589.0"/>
<polygon class="g" points="1694.4,597.8 1700.6,595.6 1701.0,596.9 1694.8,599.0"/>
<path class="w" d="M1729.4,581.9 L1741.2,581.2 L1768.8,599.4 Q1772.5,605.0 1767.5,608.8 L1760.0,611.5 L1732.5,595.6Z"/>
<polygon class="g" points="1736.2,586.5 1755.0,595.0 1762.5,601.9 1755.0,600.0 1738.1,591.9"/>
<polygon class="w" points="1751.9,665.0 1760.0,659.8 1760.0,646.2 1832.5,613.8 1839.4,616.0 1844.0,621.9 1840.0,628.1 1771.2,660.6 1758.8,666.2"/>
<polygon class="g" points="1781.2,644.0 1792.5,639.5 1793.1,645.0 1781.9,649.5"/>
<polygon class="g" points="1816.2,628.2 1826.2,624.5 1826.9,628.8 1816.9,632.8"/>
<ellipse class="g" cx="1806.9" cy="634.8" rx="1.9" ry="2.1" transform="rotate(0 1806.9 634.8)"/>
<ellipse class="w" cx="1860.6" cy="612.5" rx="10.8" ry="8.8" transform="rotate(10 1860.6 612.5)"/>
<ellipse class="g" cx="1860.0" cy="612.0" rx="2.8" ry="1.5" transform="rotate(15 1860.0 612.0)"/>
<polygon class="w" points="1716.9,661.9 1735.0,657.5 1741.2,663.8 1741.2,676.2 1721.2,687.5"/>
<ellipse class="w" cx="1716.2" cy="675.0" rx="9.0" ry="13.5" transform="rotate(-20 1716.2 675.0)"/>
<ellipse class="g" cx="1716.2" cy="675.6" rx="3.8" ry="6.9" transform="rotate(-20 1716.2 675.6)"/>
<ellipse class="w" cx="1717.8" cy="676.0" rx="2.0" ry="5.2" transform="rotate(-20 1717.8 676.0)"/>
<ellipse class="g" cx="1716.5" cy="675.8" rx="2.8" ry="5.8" transform="rotate(-20 1716.5 675.8)"/>
<polygon class="g" points="1725.2,665.6 1736.2,661.5 1737.5,673.8 1726.5,677.8"/>
<!-- 85_small_f.py -->
<polyline class="l" stroke-width="5" stroke-linejoin="round" stroke-linecap="round" stroke-linecap="butt" points="2128.6,419.5 2128.6,600.1"/>
<polyline class="l" stroke-width="5" stroke-linejoin="round" stroke-linecap="round" stroke-linecap="butt" points="2153.0,419.5 2153.0,600.1"/>
<polyline class="l" stroke-width="1.2" stroke-linejoin="round" stroke-linecap="round"  points="2133.7,427.0 2133.7,596.7"/>
<polyline class="l" stroke-width="1.2" stroke-linejoin="round" stroke-linecap="round"  points="2148.4,427.0 2148.4,596.7"/>
<path d="M2128.6,599.2 Q2140.7,612.7 2153.0,599.2" fill="none" stroke="#fff" stroke-width="5.5"/>
<ellipse class="w" cx="2140.0" cy="417.3" rx="16.3" ry="10.4" transform="rotate(0 2140.0 417.3)"/>
<ellipse class="g" cx="2139.7" cy="418.0" rx="7.7" ry="2.7" transform="rotate(0 2139.7 418.0)"/>
<ellipse cx="1948.0" cy="492.5" rx="12.1" ry="6.0" transform="rotate(0 1948.0 492.5)" fill="none" stroke="#fff" stroke-width="4.4" />
<ellipse cx="1948.0" cy="492.2" rx="6.4" ry="2.4" transform="rotate(0 1948.0 492.2)" fill="none" stroke="#fff" stroke-width="2.6" />
<polyline class="l" stroke-width="3.8" stroke-linejoin="round" stroke-linecap="round" stroke-linecap="butt" points="1948.0,498.4 1948.0,527.8"/>
<polygon class="w" points="1942.2,525.8 1953.9,525.8 1953.2,539.6 1949.9,550.0 1946.2,550.0 1942.8,539.6"/>
<ellipse class="g" cx="1948.9" cy="535.4" rx="0.8" ry="0.8" transform="rotate(0 1948.9 535.4)"/>
<polyline class="l" stroke-width="4.4" stroke-linejoin="round" stroke-linecap="round" stroke-linejoin="miter" stroke-linecap="butt" points="1948.0,548.8 1948.0,574.9 1966.5,580.9 2013.5,560.6 2013.5,542.1"/>
<polygon class="w" points="2012.0,534.2 2006.0,543.8 2017.7,543.8"/>
<rect class="w" x="1909.7" y="505.7" width="18.8" height="27.7" rx="3" transform="rotate(-4 1919.0 519.1)"/>
<ellipse class="g" cx="1915.6" cy="513.5" rx="1.2" ry="2.0" transform="rotate(-10 1915.6 513.5)"/>
<ellipse class="g" cx="1920.0" cy="514.4" rx="1.0" ry="1.7" transform="rotate(20 1920.0 514.4)"/>
<polygon class="g" points="1914.4,521.1 1919.5,520.8 1919.6,526.5 1914.6,526.8"/>
<polygon class="g" points="1923.3,520.8 1925.7,521.9 1924.0,523.1"/>
<!-- 86_small_g.py -->
<line x1="729.1" y1="1022.5" x2="753.4" y2="1011.7" stroke="#fff" stroke-width="10.5" stroke-linecap="round"/>
<line x1="731.3" y1="1021.6" x2="751.7" y2="1012.5" stroke="#9e9e9e" stroke-width="4.2" stroke-linecap="round"/>
<line x1="713.2" y1="1027.9" x2="726.2" y2="1022.5" stroke="#fff" stroke-width="11.5" stroke-linecap="round"/>
<polyline class="l" stroke-width="4.2" stroke-linejoin="round" stroke-linecap="round"  points="690.0,1043.1 711.5,1032.1"/>
<line x1="743.8" y1="1061.9" x2="784.0" y2="1044.0" stroke="#fff" stroke-width="8.2" stroke-linecap="round"/>
<line x1="784.0" y1="1044.0" x2="824.2" y2="1027.3" stroke="#fff" stroke-width="9.5" stroke-linecap="round"/>
<line x1="780.6" y1="1045.7" x2="801.0" y2="1036.7" stroke="#fff" stroke-width="11" stroke-linecap="round"/>
<line x1="751.7" y1="1059.0" x2="759.1" y2="1055.9" stroke="#9e9e9e" stroke-width="2.2" stroke-linecap="round"/>
<ellipse class="g" cx="768.2" cy="1050.8" rx="1.1" ry="0.8" transform="rotate(0 768.2 1050.8)"/>
<ellipse class="g" cx="800.4" cy="1037.2" rx="1.4" ry="0.9" transform="rotate(0 800.4 1037.2)"/>
<ellipse class="g" cx="808.7" cy="1033.8" rx="1.4" ry="0.9" transform="rotate(0 808.7 1033.8)"/>
<line x1="865.0" y1="992.1" x2="879.7" y2="986.5" stroke="#fff" stroke-width="13.5" stroke-linecap="round"/>
<ellipse class="w" cx="882.6" cy="984.0" rx="3.4" ry="4.5" transform="rotate(20 882.6 984.0)"/>
<polyline class="l" stroke-width="4.2" stroke-linejoin="round" stroke-linecap="round"  points="886.5,982.9 920.0,968.1 936.4,976.3"/>
<ellipse class="w" cx="940.3" cy="986.5" rx="9.7" ry="10.4" transform="rotate(0 940.3 986.5)"/>
<path d="M940.9,981.2 Q935.2,984.0 938.6,989.6" fill="none" stroke="#9e9e9e" stroke-width="1.8"/>
<path d="M866.7,989.1 Q864.4,990.8 866.1,992.8" fill="none" stroke="#9e9e9e" stroke-width="1.6"/>
<path d="M881.4,980.6 Q876.9,984.0 875.8,987.4" fill="none" stroke="#9e9e9e" stroke-width="1.6"/>
<!-- 87_small_h.py -->
<path class="w" d="M1450.0,1010.6 Q1450.0,1006.9 1453.8,1005.0 L1501.9,981.9 Q1504.4,980.6 1507.5,981.6 L1591.2,1010.8 Q1594.4,1012.5 1592.5,1016.2 L1543.8,1041.5 Q1539.4,1043.1 1535.0,1041.5 L1452.5,1016.5 Q1450.0,1015.0 1450.0,1010.6Z"/>
<polygon class="g" points="1468.1,1002.5 1503.8,986.0 1570.6,1008.5 1525.6,1029.8"/>
<polygon class="g" points="1534.4,1030.2 1567.5,1013.8 1572.2,1015.8 1538.5,1032.2"/>
<polygon class="g" points="1460.0,1004.5 1463.1,1003.1 1463.1,1008.1"/>
<polygon class="g" points="1580.0,1011.5 1590.0,1014.0 1580.2,1018.5"/>
<polygon class="g" points="1458.1,1011.9 1466.2,1014.8 1465.0,1016.0 1457.5,1013.5"/>
<polygon class="g" points="1552.5,1030.0 1575.0,1019.4 1576.0,1020.6 1553.8,1031.2"/>
<polygon class="w" points="1468.8,1020.0 1490.0,1026.2 1489.4,1023.5 1469.4,1017.5"/>
<polyline class="l" stroke-width="4.2" stroke-linejoin="round" stroke-linecap="round"  points="1662.8,983.1 1624.4,1001.0"/>
<polygon class="w" points="1609.8,1008.2 1619.4,994.4 1626.9,1008.1"/>
<g fill="#fff" stroke="#fff" stroke-linejoin="round" opacity="0.999" font-family="Liberation Sans, sans-serif" font-weight="700">
<text x="710.0" y="96.0" font-size="56" stroke-width="1.4" textLength="975.0" lengthAdjust="spacingAndGlyphs">Chose syent fin make a electric e-bike work</text>
<text x="854.3" y="208.2" font-size="22.5" stroke-width="0.8" textLength="224.2" lengthAdjust="spacingAndGlyphs">Eellectran simplage</text>
<text x="837.4" y="233.0" font-size="22.5" stroke-width="0.8" textLength="259.0" lengthAdjust="spacingAndGlyphs">(Fince, chake sperealsel)</text>
<text x="852.7" y="257.0" font-size="22.5" stroke-width="0.8" textLength="235.2" lengthAdjust="spacingAndGlyphs">to melector’s system)</text>
<text x="161.9" y="575.3" font-size="24.7" stroke-width="0.8" textLength="134.9" lengthAdjust="spacingAndGlyphs">Motor unit</text>
<text x="162.3" y="601.3" font-size="21" stroke-width="0.8" textLength="183.9" lengthAdjust="spacingAndGlyphs">Butterıny syawn,</text>
<text x="162.0" y="625.6" font-size="21" stroke-width="0.8" textLength="153.0" lengthAdjust="spacingAndGlyphs">of the felectric</text>
<text x="445.7" y="554.5" font-size="24" stroke-width="0.8" textLength="134.1" lengthAdjust="spacingAndGlyphs">Motor unit</text>
<text x="444.7" y="581.0" font-size="21" stroke-width="0.8" textLength="138.1" lengthAdjust="spacingAndGlyphs">battery pack</text>
<text x="109.6" y="840.1" font-size="25" stroke-width="0.8" textLength="53.7" lengthAdjust="spacingAndGlyphs">LIKE</text>
<text x="100.3" y="867.8" font-size="23.5" stroke-width="0.8" textLength="178.3" lengthAdjust="spacingAndGlyphs">Chorse system is</text>
<text x="78.9" y="892.2" font-size="23.5" stroke-width="0.8" textLength="211.6" lengthAdjust="spacingAndGlyphs">inclunated ahe-bike</text>
<text x="113.7" y="1003.8" font-size="26" stroke-width="0.8" textLength="162.4" lengthAdjust="spacingAndGlyphs">Battery Pack</text>
<text x="112.9" y="1040.4" font-size="23.5" stroke-width="0.8" textLength="202.0" lengthAdjust="spacingAndGlyphs">Thous-inıated dois</text>
<text x="111.6" y="1066.0" font-size="23.5" stroke-width="0.8" textLength="204.8" lengthAdjust="spacingAndGlyphs">electric and mooed</text>
<text x="111.6" y="1090.5" font-size="23.5" stroke-width="0.8" textLength="76.9" lengthAdjust="spacingAndGlyphs">system</text>
<text x="605.0" y="1143.2" font-size="24" stroke-width="0.8" textLength="46.5" lengthAdjust="spacingAndGlyphs">10K</text>
<text x="605.0" y="1169.7" font-size="23" stroke-width="0.8" textLength="80.7" lengthAdjust="spacingAndGlyphs">Electric</text>
<text x="605.0" y="1194.3" font-size="23" stroke-width="0.8" textLength="127.2" lengthAdjust="spacingAndGlyphs">bittery bick</text>
<text x="448.6" y="1241.6" font-size="25" stroke-width="0.8" textLength="285.4" lengthAdjust="spacingAndGlyphs">Motor complon system</text>
<text x="448.6" y="1271.7" font-size="23" stroke-width="0.8" textLength="245.3" lengthAdjust="spacingAndGlyphs">Electric: duatty moke</text>
<text x="448.6" y="1299.0" font-size="23" stroke-width="0.8" textLength="192.0" lengthAdjust="spacingAndGlyphs">betery exeicned</text>
<text x="448.6" y="1327.0" font-size="23" stroke-width="0.8" textLength="199.3" lengthAdjust="spacingAndGlyphs">take-ary devidars</text>
<text x="792.3" y="1160.2" font-size="23.7" stroke-width="0.8" textLength="155.3" lengthAdjust="spacingAndGlyphs">Torcue sensor</text>
<text x="956.4" y="1245.5" font-size="25.5" stroke-width="0.8" textLength="66.4" lengthAdjust="spacingAndGlyphs">LBKS</text>
<text x="954.5" y="1277.2" font-size="24" stroke-width="0.8" textLength="143.5" lengthAdjust="spacingAndGlyphs">impre-make</text>
<text x="953.7" y="1303.7" font-size="24" stroke-width="0.8" textLength="132.6" lengthAdjust="spacingAndGlyphs">o the cheres</text>
<text x="1291.4" y="1243.6" font-size="25" stroke-width="0.8" textLength="94.4" lengthAdjust="spacingAndGlyphs">Torcuse</text>
<text x="1288.7" y="1274.5" font-size="24" stroke-width="0.8" textLength="179.1" lengthAdjust="spacingAndGlyphs">Toncue System</text>
<text x="1288.7" y="1303.7" font-size="24" stroke-width="0.8" textLength="177.8" lengthAdjust="spacingAndGlyphs">dic cass stacks</text>
<text x="1288.7" y="1331.0" font-size="24" stroke-width="0.8" textLength="145.5" lengthAdjust="spacingAndGlyphs">for cuptions</text>
<text x="1636.8" y="1243.6" font-size="25" stroke-width="0.8" textLength="176.9" lengthAdjust="spacingAndGlyphs">Torcue Sensor</text>
<text x="1640.6" y="1275.0" font-size="24" stroke-width="0.8" textLength="186.8" lengthAdjust="spacingAndGlyphs">Elicken won for</text>
<text x="1637.4" y="1304.5" font-size="24" stroke-width="0.8" textLength="237.9" lengthAdjust="spacingAndGlyphs">The slecstion dicteal</text>
<text x="1638.7" y="1331.9" font-size="24" stroke-width="0.8" textLength="186.0" lengthAdjust="spacingAndGlyphs">with your bnake.</text>
<text x="2104.6" y="1092.5" font-size="23.5" stroke-width="0.8" textLength="70.9" lengthAdjust="spacingAndGlyphs">Batter</text>
<text x="2104.0" y="1117.7" font-size="23.5" stroke-width="0.8" textLength="63.8" lengthAdjust="spacingAndGlyphs">makel</text>
<text x="2104.6" y="1143.3" font-size="23.5" stroke-width="0.8" textLength="110.3" lengthAdjust="spacingAndGlyphs">cullweren</text>
<text x="2104.6" y="1167.9" font-size="23.5" stroke-width="0.8" textLength="88.4" lengthAdjust="spacingAndGlyphs">systems</text>
<text x="2275.5" y="861.6" font-size="24" stroke-width="0.8" textLength="130.3" lengthAdjust="spacingAndGlyphs">Abota unit</text>
<text x="2275.5" y="887.8" font-size="24" stroke-width="0.8" textLength="126.2" lengthAdjust="spacingAndGlyphs">collue for a</text>
<text x="2275.5" y="910.8" font-size="24" stroke-width="0.8" textLength="158.6" lengthAdjust="spacingAndGlyphs">make gratlincy</text>
<text x="2274.9" y="935.5" font-size="24" stroke-width="0.8" textLength="163.8" lengthAdjust="spacingAndGlyphs">and stalts bike</text>
<text x="2277.2" y="576.1" font-size="24" stroke-width="0.8" textLength="115.5" lengthAdjust="spacingAndGlyphs">Cumpents</text>
<text x="2276.1" y="602.4" font-size="24" stroke-width="0.8" textLength="126.7" lengthAdjust="spacingAndGlyphs">Tonovation</text>
<text x="2275.1" y="627.6" font-size="24" stroke-width="0.8" textLength="141.0" lengthAdjust="spacingAndGlyphs">and curreaut</text>
<text x="2275.1" y="652.1" font-size="24" stroke-width="0.8" textLength="120.0" lengthAdjust="spacingAndGlyphs">evcleranry</text>
<text x="2218.4" y="326.7" font-size="25" stroke-width="0.8" textLength="51.8" lengthAdjust="spacingAndGlyphs">RIKL</text>
<text x="1932.5" y="247.2" font-size="24" stroke-width="0.8" textLength="81.2" lengthAdjust="spacingAndGlyphs">Turcue</text>
<text x="1930.8" y="274.2" font-size="24" stroke-width="0.8" textLength="121.4" lengthAdjust="spacingAndGlyphs">edurcation</text>
<text x="1930.8" y="299.4" font-size="24" stroke-width="0.8" textLength="95.2" lengthAdjust="spacingAndGlyphs">excteries</text>
</g>
</svg>
</body></html>
